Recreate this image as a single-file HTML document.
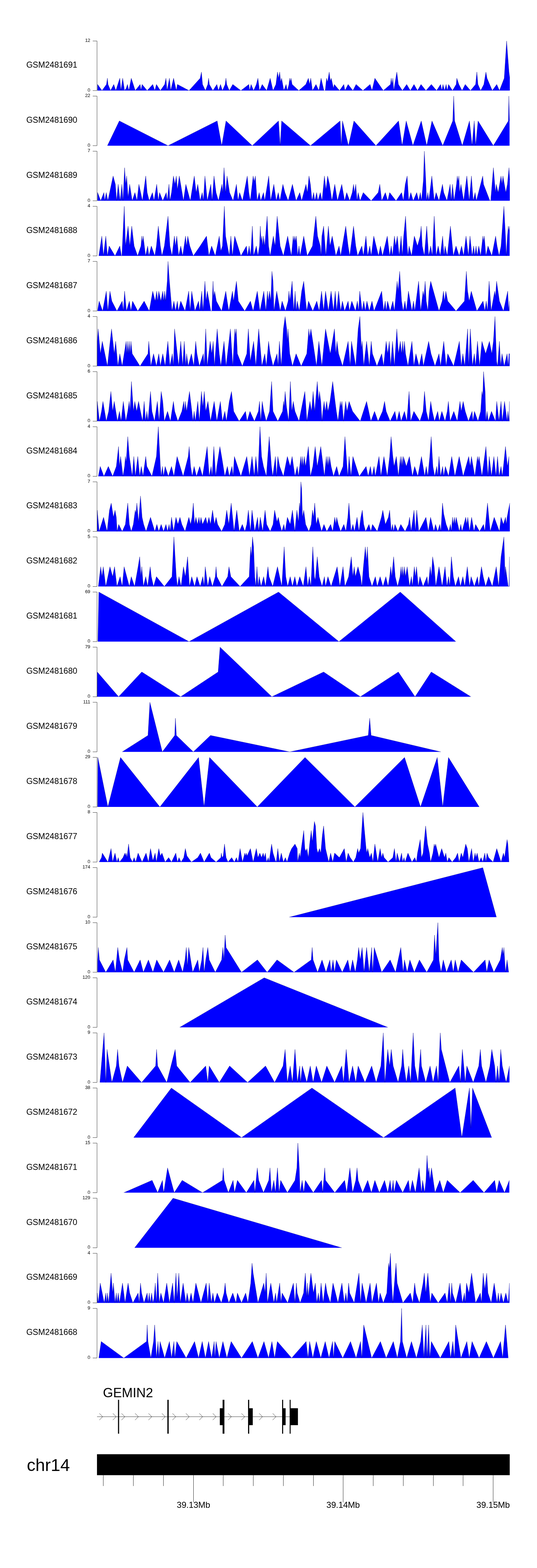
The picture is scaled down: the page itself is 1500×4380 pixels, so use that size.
<!DOCTYPE html><html><head><meta charset="utf-8"><style>html,body{margin:0;padding:0;background:#fff;width:1500px;height:4380px;overflow:hidden}svg{display:block}text{font-family:"Liberation Sans",Arial,sans-serif}</style></head><body>
<svg width="1500" height="4380" viewBox="0 0 1500 4380">
<rect width="1500" height="4380" fill="#fff"/>
<path d="M272.44 253L272.44 253L272.67 235.69L284.89 253L297.33 235.69L300 218.38L301.78 235.69L308.89 253L317.78 235.69L323.56 253L334.67 218.38L337.78 253L342.67 218.38L348 253L352.44 246.67L356 235.69L360 253L366.67 218.38L377.78 253L391.56 235.69L393.78 253L396.89 235.69L411.11 253L426.67 235.69L432.44 253L436.89 235.69L448 253L460 235.69L463.56 218.38L466.67 253L473.33 218.38L476.89 253L484.89 218.38L492.44 253L495.56 235.69L528 253L559.11 218.38L562.67 201.06L565.78 235.69L573.78 253L580.44 235.69L582.67 218.38L584.89 235.69L594.67 253L605.78 235.69L610.22 253L616 235.69L621.33 253L628.89 235.69L631.11 218.38L633.33 235.69L640.44 253L650.22 235.69L672.89 253L695.11 235.69L697.33 253L701.33 235.69L708.44 253L716 235.69L720.44 218.38L724.89 253L732.44 235.69L744.89 253L754.67 218.38L762.67 253L770.67 235.69L775.11 201.06L778.22 218.38L781.33 201.06L784 228.89L786.67 218.38L792.89 253L799.11 235.69L802.67 253L807.11 235.69L808.89 218.38L810.67 228.89L812.89 218.38L816 235.69L834.67 253L854.22 235.69L861.33 218.38L864.89 235.69L868 218.38L872.89 253L882.67 235.69L890.67 253L896.89 218.38L904.89 253L908.44 253L912 218.38L915.11 228.89L919.56 201.06L922.67 226.67L925.33 218.38L931.56 246.67L933.78 235.69L948.44 253L960.44 235.69L963.56 253L972.44 235.69L985.78 253L994.67 235.69L1013.78 253L1033.78 235.69L1039.11 253L1047.11 218.38L1070.67 253L1090.67 235.69L1092.89 218.38L1095.11 235.69L1097.33 218.38L1100 253L1102.67 235.69L1108.44 201.06L1112.89 235.69L1124 253L1136 235.69L1146.22 253L1156.44 235.69L1166.22 253L1176 235.69L1189.78 253L1204.89 235.69L1219.56 253L1230.67 235.69L1234.22 253L1237.33 235.69L1241.78 253L1246.22 235.69L1249.33 253L1252.89 235.69L1264 253L1274.22 235.69L1276 218.38L1281.78 235.69L1290.67 253L1299.56 235.69L1314.22 253L1328.44 235.69L1332 201.06L1335.11 235.69L1342.67 253L1351.56 235.69L1357.33 201.06L1360.44 218.38L1375.11 253L1387.56 235.69L1395.11 253L1408.44 218.38L1415.11 114.5L1421.78 201.06L1424 218.38L1424 253Z" fill="#0000ff" stroke="none"/>
<path d="M272.44 253L272.67 235.69L284.89 253L297.33 235.69L300 218.38L301.78 235.69L308.89 253L317.78 235.69L323.56 253L334.67 218.38L337.78 253L342.67 218.38L348 253L352.44 246.67L356 235.69L360 253L366.67 218.38L377.78 253L391.56 235.69L393.78 253L396.89 235.69L411.11 253L426.67 235.69L432.44 253L436.89 235.69L448 253L460 235.69L463.56 218.38L466.67 253L473.33 218.38L476.89 253L484.89 218.38L492.44 253L495.56 235.69L528 253L559.11 218.38L562.67 201.06L565.78 235.69L573.78 253L580.44 235.69L582.67 218.38L584.89 235.69L594.67 253L605.78 235.69L610.22 253L616 235.69L621.33 253L628.89 235.69L631.11 218.38L633.33 235.69L640.44 253L650.22 235.69L672.89 253L695.11 235.69L697.33 253L701.33 235.69L708.44 253L716 235.69L720.44 218.38L724.89 253L732.44 235.69L744.89 253L754.67 218.38L762.67 253L770.67 235.69L775.11 201.06L778.22 218.38L781.33 201.06L784 228.89L786.67 218.38L792.89 253L799.11 235.69L802.67 253L807.11 235.69L808.89 218.38L810.67 228.89L812.89 218.38L816 235.69L834.67 253L854.22 235.69L861.33 218.38L864.89 235.69L868 218.38L872.89 253L882.67 235.69L890.67 253L896.89 218.38L904.89 253L908.44 253L912 218.38L915.11 228.89L919.56 201.06L922.67 226.67L925.33 218.38L931.56 246.67L933.78 235.69L948.44 253L960.44 235.69L963.56 253L972.44 235.69L985.78 253L994.67 235.69L1013.78 253L1033.78 235.69L1039.11 253L1047.11 218.38L1070.67 253L1090.67 235.69L1092.89 218.38L1095.11 235.69L1097.33 218.38L1100 253L1102.67 235.69L1108.44 201.06L1112.89 235.69L1124 253L1136 235.69L1146.22 253L1156.44 235.69L1166.22 253L1176 235.69L1189.78 253L1204.89 235.69L1219.56 253L1230.67 235.69L1234.22 253L1237.33 235.69L1241.78 253L1246.22 235.69L1249.33 253L1252.89 235.69L1264 253L1274.22 235.69L1276 218.38L1281.78 235.69L1290.67 253L1299.56 235.69L1314.22 253L1328.44 235.69L1332 201.06L1335.11 235.69L1342.67 253L1351.56 235.69L1357.33 201.06L1360.44 218.38L1375.11 253L1387.56 235.69L1395.11 253L1408.44 218.38L1415.11 114.5L1421.78 201.06L1424 218.38" fill="none" stroke="#000080" stroke-width="0.55" stroke-linejoin="round"/>
<path d="M259 114.5H271V253H259" fill="none" stroke="#333" stroke-width="1"/>
<text x="252.1" y="117.4" font-size="13" text-anchor="end" fill="#000">12</text>
<text x="252.1" y="255.9" font-size="13" text-anchor="end" fill="#000">0</text>
<text x="73.4" y="189" font-size="23.1" fill="#000">GSM2481691</text>
<path d="M300 406.93L300 406.93L333.33 337.68L469.33 406.93L606.67 337.68L619.33 406.93L631.33 337.68L704.67 406.93L778 337.68L782.67 406.93L786.67 337.68L867.33 406.93L950 337.68L953.33 406.93L956.67 337.68L973.33 406.93L988.67 337.68L1050 406.93L1113.33 337.68L1123.33 406.93L1134.67 337.68L1153.33 406.93L1176.67 337.68L1192 406.93L1206.67 337.68L1236.67 406.93L1264.67 337.68L1267.33 268.43L1270 337.68L1291.33 406.93L1311.33 337.68L1318.67 406.93L1324.67 337.68L1328.67 406.93L1335.33 337.68L1378 406.93L1420 337.68L1421.33 268.43L1423.33 337.68L1423.33 406.93Z" fill="#0000ff" stroke="none"/>
<path d="M300 406.93L333.33 337.68L469.33 406.93L606.67 337.68L619.33 406.93L631.33 337.68L704.67 406.93L778 337.68L782.67 406.93L786.67 337.68L867.33 406.93L950 337.68L953.33 406.93L956.67 337.68L973.33 406.93L988.67 337.68L1050 406.93L1113.33 337.68L1123.33 406.93L1134.67 337.68L1153.33 406.93L1176.67 337.68L1192 406.93L1206.67 337.68L1236.67 406.93L1264.67 337.68L1267.33 268.43L1270 337.68L1291.33 406.93L1311.33 337.68L1318.67 406.93L1324.67 337.68L1328.67 406.93L1335.33 337.68L1378 406.93L1420 337.68L1421.33 268.43L1423.33 337.68" fill="none" stroke="#000080" stroke-width="0.55" stroke-linejoin="round"/>
<path d="M259 268.43H271V406.93H259" fill="none" stroke="#333" stroke-width="1"/>
<text x="252.1" y="271.33" font-size="13" text-anchor="end" fill="#000">22</text>
<text x="252.1" y="409.83" font-size="13" text-anchor="end" fill="#000">0</text>
<text x="73.4" y="342.93" font-size="23.1" fill="#000">GSM2481690</text>
<path d="M272.44 560.86L272.44 560.86L272.67 537.78L281.33 560.86L290.22 537.78L292.44 560.86L296.89 537.78L301.33 560.86L316 491.61L322.22 514.69L325.78 560.86L330.22 514.69L335.56 560.86L340.44 514.69L343.56 560.86L348 468.53L351.11 514.69L353.78 491.61L357.78 551.78L362.22 514.69L369.33 560.86L376.89 537.78L382.67 560.86L388 514.69L397.78 560.86L407.11 491.61L411.11 537.78L416.89 560.86L425.78 537.78L430.22 560.86L437.78 514.69L442.22 560.86L445.78 537.78L454.67 560.86L464.44 537.78L467.11 560.86L472 514.69L474.67 560.86L479.11 537.78L484.44 491.61L488.89 514.69L492.44 491.61L495.56 529.56L500.89 491.61L512.44 560.86L519.11 514.69L531.56 560.86L542.67 491.61L548 537.78L552.44 514.69L559.11 560.86L564.89 537.78L568 560.86L572.44 491.61L579.11 560.86L588.89 514.69L592.44 560.86L597.78 491.61L603.56 537.78L610.22 560.86L620 514.69L622.22 537.78L625.78 468.53L630.22 537.78L634.22 491.61L641.33 537.78L651.11 560.86L660.44 514.69L664.89 560.86L669.33 537.78L677.33 560.86L690.67 491.61L695.11 537.78L699.11 560.86L707.11 491.61L710.22 507.33L713.33 491.61L718.22 560.86L724 537.78L728.44 560.86L736 537.78L739.56 560.86L750.67 491.61L756 560.86L764.89 514.69L771.56 560.86L777.33 537.78L781.78 560.86L790.22 514.69L796 537.78L804.89 560.86L816.89 514.69L827.11 560.86L837.33 537.78L842.67 560.86L854.67 514.69L858.67 537.78L863.11 491.61L867.11 514.69L871.56 560.86L876 537.78L879.56 560.86L884.44 537.78L888 560.86L894.67 537.78L899.56 560.86L906.22 491.61L910.67 529.56L915.11 491.61L920.44 514.69L927.11 560.86L935.11 514.69L942.67 560.86L954.67 514.69L962.67 560.86L968.44 537.78L976.89 560.86L984 537.78L987.56 514.69L990.22 537.78L993.78 514.69L997.33 560.86L1000.44 537.78L1005.78 560.86L1014.67 537.78L1036.89 560.86L1056.44 537.78L1060.89 514.69L1066.22 560.86L1076.44 537.78L1083.11 560.86L1088.44 537.78L1106.22 560.86L1121.78 537.78L1126.67 560.86L1132 514.69L1137.33 491.61L1141.78 560.86L1147.56 537.78L1154.22 560.86L1164 537.78L1169.33 560.86L1174.22 537.78L1177.33 560.86L1182.67 502.89L1185.33 422.36L1189.33 502.89L1191.56 560.86L1195.11 537.78L1197.78 560.86L1206.22 491.61L1212.89 560.86L1218.22 537.78L1226.22 560.86L1236 514.69L1239.56 537.78L1248.44 560.86L1257.33 514.69L1260.44 560.86L1264 514.69L1268.44 560.86L1275.11 514.69L1277.33 491.61L1279.56 507.33L1281.78 491.61L1284 537.78L1287.56 514.69L1295.11 560.86L1304 491.61L1310.67 560.86L1316.89 491.61L1321.78 560.86L1327.11 537.78L1330.67 560.86L1348.44 491.61L1350.67 514.69L1368.44 560.86L1370.67 560.86L1378.22 468.53L1384 537.78L1386.22 514.69L1391.56 537.78L1399.56 491.61L1402.22 514.69L1404.89 491.61L1412.89 537.78L1417.33 514.69L1421.78 468.53L1424 502.89L1424 560.86Z" fill="#0000ff" stroke="none"/>
<path d="M272.44 560.86L272.67 537.78L281.33 560.86L290.22 537.78L292.44 560.86L296.89 537.78L301.33 560.86L316 491.61L322.22 514.69L325.78 560.86L330.22 514.69L335.56 560.86L340.44 514.69L343.56 560.86L348 468.53L351.11 514.69L353.78 491.61L357.78 551.78L362.22 514.69L369.33 560.86L376.89 537.78L382.67 560.86L388 514.69L397.78 560.86L407.11 491.61L411.11 537.78L416.89 560.86L425.78 537.78L430.22 560.86L437.78 514.69L442.22 560.86L445.78 537.78L454.67 560.86L464.44 537.78L467.11 560.86L472 514.69L474.67 560.86L479.11 537.78L484.44 491.61L488.89 514.69L492.44 491.61L495.56 529.56L500.89 491.61L512.44 560.86L519.11 514.69L531.56 560.86L542.67 491.61L548 537.78L552.44 514.69L559.11 560.86L564.89 537.78L568 560.86L572.44 491.61L579.11 560.86L588.89 514.69L592.44 560.86L597.78 491.61L603.56 537.78L610.22 560.86L620 514.69L622.22 537.78L625.78 468.53L630.22 537.78L634.22 491.61L641.33 537.78L651.11 560.86L660.44 514.69L664.89 560.86L669.33 537.78L677.33 560.86L690.67 491.61L695.11 537.78L699.11 560.86L707.11 491.61L710.22 507.33L713.33 491.61L718.22 560.86L724 537.78L728.44 560.86L736 537.78L739.56 560.86L750.67 491.61L756 560.86L764.89 514.69L771.56 560.86L777.33 537.78L781.78 560.86L790.22 514.69L796 537.78L804.89 560.86L816.89 514.69L827.11 560.86L837.33 537.78L842.67 560.86L854.67 514.69L858.67 537.78L863.11 491.61L867.11 514.69L871.56 560.86L876 537.78L879.56 560.86L884.44 537.78L888 560.86L894.67 537.78L899.56 560.86L906.22 491.61L910.67 529.56L915.11 491.61L920.44 514.69L927.11 560.86L935.11 514.69L942.67 560.86L954.67 514.69L962.67 560.86L968.44 537.78L976.89 560.86L984 537.78L987.56 514.69L990.22 537.78L993.78 514.69L997.33 560.86L1000.44 537.78L1005.78 560.86L1014.67 537.78L1036.89 560.86L1056.44 537.78L1060.89 514.69L1066.22 560.86L1076.44 537.78L1083.11 560.86L1088.44 537.78L1106.22 560.86L1121.78 537.78L1126.67 560.86L1132 514.69L1137.33 491.61L1141.78 560.86L1147.56 537.78L1154.22 560.86L1164 537.78L1169.33 560.86L1174.22 537.78L1177.33 560.86L1182.67 502.89L1185.33 422.36L1189.33 502.89L1191.56 560.86L1195.11 537.78L1197.78 560.86L1206.22 491.61L1212.89 560.86L1218.22 537.78L1226.22 560.86L1236 514.69L1239.56 537.78L1248.44 560.86L1257.33 514.69L1260.44 560.86L1264 514.69L1268.44 560.86L1275.11 514.69L1277.33 491.61L1279.56 507.33L1281.78 491.61L1284 537.78L1287.56 514.69L1295.11 560.86L1304 491.61L1310.67 560.86L1316.89 491.61L1321.78 560.86L1327.11 537.78L1330.67 560.86L1348.44 491.61L1350.67 514.69L1368.44 560.86L1370.67 560.86L1378.22 468.53L1384 537.78L1386.22 514.69L1391.56 537.78L1399.56 491.61L1402.22 514.69L1404.89 491.61L1412.89 537.78L1417.33 514.69L1421.78 468.53L1424 502.89" fill="none" stroke="#000080" stroke-width="0.55" stroke-linejoin="round"/>
<path d="M259 422.36H271V560.86H259" fill="none" stroke="#333" stroke-width="1"/>
<text x="252.1" y="425.26" font-size="13" text-anchor="end" fill="#000">7</text>
<text x="252.1" y="563.76" font-size="13" text-anchor="end" fill="#000">0</text>
<text x="73.4" y="496.86" font-size="23.1" fill="#000">GSM2481689</text>
<path d="M276 714.79L276 714.79L284.44 659.39L288.89 714.79L295.56 659.39L300 714.79L304.89 687.09L321.33 714.79L334.67 687.09L339.11 714.79L340.44 714.79L347.11 576.29L350.67 687.09L357.78 631.69L362.67 687.09L368 631.69L374.67 687.09L384.44 714.79L393.78 687.09L396 659.39L397.78 676.89L400 659.39L406.67 714.79L412.44 687.09L416 714.79L422.67 687.09L432.44 714.79L436.89 687.09L442.22 631.69L448 687.09L452.44 714.79L459.11 687.09L469.33 603.99L474.67 687.09L480.44 714.79L487.11 659.39L490.22 687.09L493.78 659.39L499.11 714.79L504.89 687.09L510.22 714.79L518.22 659.39L521.33 687.09L524.44 659.39L530.22 687.09L540 714.79L559.11 687.09L576.89 659.39L583.56 714.79L591.11 687.09L601.33 714.79L612.44 659.39L616.89 701.33L621.33 687.09L626.67 576.29L630.22 659.39L640.44 714.79L644.89 659.39L649.33 714.79L655.56 659.39L672.89 714.79L688.44 687.09L691.56 714.79L696 687.09L699.56 714.79L701.78 687.09L704.89 631.69L708.44 714.79L716 687.09L720.44 714.79L724.89 687.09L727.11 631.69L729.33 674.67L731.56 659.39L733.78 687.09L736 659.39L739.56 687.09L746.22 603.99L750.22 687.09L754.67 714.79L763.56 659.39L768.44 687.09L774.22 603.99L782.67 687.09L791.56 714.79L803.56 659.39L813.78 714.79L819.11 659.39L821.33 674.67L823.56 659.39L825.78 674.67L828 659.39L831.56 714.79L835.11 687.09L838.22 714.79L848.44 659.39L858.22 714.79L872.89 687.09L882.22 603.99L887.11 659.39L894.67 687.09L896.89 714.79L899.11 659.39L904 631.69L910.22 714.79L917.33 631.69L921.78 687.09L928 659.39L938.22 714.79L947.11 687.09L951.56 714.79L965.78 631.69L972.44 687.09L976.89 714.79L987.56 631.69L993.78 687.09L999.11 714.79L1010.67 687.09L1015.11 714.79L1022.22 659.39L1027.11 714.79L1032.89 687.09L1036.89 714.79L1044 659.39L1057.33 714.79L1062.67 687.09L1068.44 714.79L1081.78 659.39L1088.44 714.79L1092.89 687.09L1096.44 714.79L1101.78 659.39L1105.33 687.09L1109.78 659.39L1115.11 714.79L1120.44 659.39L1124 714.79L1127.56 659.39L1132.89 603.99L1137.33 687.09L1139.56 714.79L1142.67 687.09L1149.78 714.79L1157.33 659.39L1166.22 687.09L1173.78 659.39L1176.44 631.69L1179.56 687.09L1185.33 714.79L1192 631.69L1197.33 714.79L1203.11 687.09L1207.56 714.79L1212.89 603.99L1218.22 714.79L1224 687.09L1229.78 714.79L1236.44 659.39L1240.44 714.79L1243.11 687.09L1249.33 714.79L1258.22 631.69L1266.22 714.79L1273.78 687.09L1282.67 714.79L1289.33 687.09L1295.11 714.79L1301.78 659.39L1308.44 714.79L1312.89 659.39L1318.67 714.79L1323.11 687.09L1326.22 714.79L1329.78 687.09L1332.89 714.79L1337.33 687.09L1342.67 714.79L1348.89 659.39L1350.67 674.67L1352.89 659.39L1357.33 714.79L1363.11 687.09L1373.78 714.79L1384.44 659.39L1388.44 687.09L1394.22 714.79L1399.56 687.09L1407.56 576.29L1412 659.39L1414.22 714.79L1417.33 659.39L1420 631.69L1421.78 645.78L1423.56 631.69L1423.56 714.79Z" fill="#0000ff" stroke="none"/>
<path d="M276 714.79L284.44 659.39L288.89 714.79L295.56 659.39L300 714.79L304.89 687.09L321.33 714.79L334.67 687.09L339.11 714.79L340.44 714.79L347.11 576.29L350.67 687.09L357.78 631.69L362.67 687.09L368 631.69L374.67 687.09L384.44 714.79L393.78 687.09L396 659.39L397.78 676.89L400 659.39L406.67 714.79L412.44 687.09L416 714.79L422.67 687.09L432.44 714.79L436.89 687.09L442.22 631.69L448 687.09L452.44 714.79L459.11 687.09L469.33 603.99L474.67 687.09L480.44 714.79L487.11 659.39L490.22 687.09L493.78 659.39L499.11 714.79L504.89 687.09L510.22 714.79L518.22 659.39L521.33 687.09L524.44 659.39L530.22 687.09L540 714.79L559.11 687.09L576.89 659.39L583.56 714.79L591.11 687.09L601.33 714.79L612.44 659.39L616.89 701.33L621.33 687.09L626.67 576.29L630.22 659.39L640.44 714.79L644.89 659.39L649.33 714.79L655.56 659.39L672.89 714.79L688.44 687.09L691.56 714.79L696 687.09L699.56 714.79L701.78 687.09L704.89 631.69L708.44 714.79L716 687.09L720.44 714.79L724.89 687.09L727.11 631.69L729.33 674.67L731.56 659.39L733.78 687.09L736 659.39L739.56 687.09L746.22 603.99L750.22 687.09L754.67 714.79L763.56 659.39L768.44 687.09L774.22 603.99L782.67 687.09L791.56 714.79L803.56 659.39L813.78 714.79L819.11 659.39L821.33 674.67L823.56 659.39L825.78 674.67L828 659.39L831.56 714.79L835.11 687.09L838.22 714.79L848.44 659.39L858.22 714.79L872.89 687.09L882.22 603.99L887.11 659.39L894.67 687.09L896.89 714.79L899.11 659.39L904 631.69L910.22 714.79L917.33 631.69L921.78 687.09L928 659.39L938.22 714.79L947.11 687.09L951.56 714.79L965.78 631.69L972.44 687.09L976.89 714.79L987.56 631.69L993.78 687.09L999.11 714.79L1010.67 687.09L1015.11 714.79L1022.22 659.39L1027.11 714.79L1032.89 687.09L1036.89 714.79L1044 659.39L1057.33 714.79L1062.67 687.09L1068.44 714.79L1081.78 659.39L1088.44 714.79L1092.89 687.09L1096.44 714.79L1101.78 659.39L1105.33 687.09L1109.78 659.39L1115.11 714.79L1120.44 659.39L1124 714.79L1127.56 659.39L1132.89 603.99L1137.33 687.09L1139.56 714.79L1142.67 687.09L1149.78 714.79L1157.33 659.39L1166.22 687.09L1173.78 659.39L1176.44 631.69L1179.56 687.09L1185.33 714.79L1192 631.69L1197.33 714.79L1203.11 687.09L1207.56 714.79L1212.89 603.99L1218.22 714.79L1224 687.09L1229.78 714.79L1236.44 659.39L1240.44 714.79L1243.11 687.09L1249.33 714.79L1258.22 631.69L1266.22 714.79L1273.78 687.09L1282.67 714.79L1289.33 687.09L1295.11 714.79L1301.78 659.39L1308.44 714.79L1312.89 659.39L1318.67 714.79L1323.11 687.09L1326.22 714.79L1329.78 687.09L1332.89 714.79L1337.33 687.09L1342.67 714.79L1348.89 659.39L1350.67 674.67L1352.89 659.39L1357.33 714.79L1363.11 687.09L1373.78 714.79L1384.44 659.39L1388.44 687.09L1394.22 714.79L1399.56 687.09L1407.56 576.29L1412 659.39L1414.22 714.79L1417.33 659.39L1420 631.69L1421.78 645.78L1423.56 631.69" fill="none" stroke="#000080" stroke-width="0.55" stroke-linejoin="round"/>
<path d="M259 576.29H271V714.79H259" fill="none" stroke="#333" stroke-width="1"/>
<text x="252.1" y="579.19" font-size="13" text-anchor="end" fill="#000">4</text>
<text x="252.1" y="717.69" font-size="13" text-anchor="end" fill="#000">0</text>
<text x="73.4" y="650.79" font-size="23.1" fill="#000">GSM2481688</text>
<path d="M272.44 868.72L272.44 868.72L276.89 841.02L286.67 868.72L296.89 813.32L301.33 868.72L307.11 813.32L312.44 841.02L326.67 868.72L341.33 841.02L344.44 868.72L348 813.32L353.33 868.72L361.33 841.02L365.78 868.72L370.22 841.02L384.89 868.72L402.67 841.02L416.89 868.72L426.67 813.32L433.33 841.02L437.78 813.32L440.44 841.02L443.56 813.32L449.33 841.02L454.67 813.32L457.33 841.02L460 813.32L462.67 841.02L467.11 785.62L469.33 730.22L473.33 785.62L480.44 868.72L485.78 841.02L490.22 868.72L495.56 841.02L498.22 868.72L504.89 841.02L516.89 868.72L527.11 813.32L531.11 868.72L535.56 813.32L544.44 868.72L554.67 841.02L557.78 868.72L563.56 813.32L567.11 868.72L572.44 785.62L575.56 841.02L579.11 813.32L588.89 868.72L591.56 868.72L595.11 785.62L596.89 828.67L599.56 813.32L604.44 841.02L619.11 868.72L630.67 813.32L634.67 841.02L639.11 868.72L649.33 813.32L652.44 841.02L660.44 785.62L665.78 841.02L683.56 868.72L699.56 841.02L707.11 868.72L718.67 813.32L726.22 868.72L736.89 813.32L742.67 868.72L747.11 813.32L749.33 841.02L752.89 813.32L756.44 841.02L759.56 757.92L762.67 785.62L765.33 868.72L772.89 813.32L782.67 868.72L788 841.02L797.33 868.72L804.89 841.02L807.11 813.32L809.78 841.02L816 785.62L820.44 868.72L824.44 813.32L827.11 868.72L830.22 841.02L836 868.72L842.67 813.32L848.44 785.62L853.78 841.02L856.89 868.72L861.78 841.02L873.78 868.72L884.89 841.02L891.56 868.72L898.22 813.32L904 868.72L909.33 813.32L917.33 868.72L924.89 813.32L931.56 868.72L936.44 813.32L940.44 868.72L945.78 813.32L951.56 868.72L956.44 841.02L962.67 868.72L972.44 841.02L976 868.72L982.67 841.02L992.89 868.72L998.22 841.02L1001.78 868.72L1004.89 813.32L1011.56 868.72L1016 841.02L1020.44 868.72L1024.89 841.02L1031.56 868.72L1039.11 841.02L1044.89 868.72L1066.22 813.32L1071.56 868.72L1076 841.02L1078.67 868.72L1082.67 841.02L1089.78 868.72L1097.33 841.02L1101.78 868.72L1109.33 785.62L1112 813.32L1116.44 757.92L1121.78 841.02L1126.22 868.72L1131.11 841.02L1135.11 868.72L1140.89 813.32L1150.67 868.72L1155.11 841.02L1158.67 868.72L1169.33 785.62L1175.11 868.72L1181.78 813.32L1184.44 828.67L1187.56 785.62L1190.67 841.02L1195.11 868.72L1198.67 813.32L1203.11 785.62L1226.22 868.72L1235.11 841.02L1238.67 813.32L1241.78 841.02L1245.33 813.32L1250.67 841.02L1273.78 868.72L1297.33 841.02L1302.67 757.92L1306.22 813.32L1310.67 841.02L1316.44 813.32L1332 868.72L1349.33 841.02L1354.22 868.72L1358.22 841.02L1361.78 868.72L1366.22 785.62L1372 868.72L1381.78 813.32L1384 828.67L1387.11 785.62L1395.11 841.02L1406.22 868.72L1418.22 813.32L1420.89 868.72L1423.11 841.02L1423.11 868.72Z" fill="#0000ff" stroke="none"/>
<path d="M272.44 868.72L276.89 841.02L286.67 868.72L296.89 813.32L301.33 868.72L307.11 813.32L312.44 841.02L326.67 868.72L341.33 841.02L344.44 868.72L348 813.32L353.33 868.72L361.33 841.02L365.78 868.72L370.22 841.02L384.89 868.72L402.67 841.02L416.89 868.72L426.67 813.32L433.33 841.02L437.78 813.32L440.44 841.02L443.56 813.32L449.33 841.02L454.67 813.32L457.33 841.02L460 813.32L462.67 841.02L467.11 785.62L469.33 730.22L473.33 785.62L480.44 868.72L485.78 841.02L490.22 868.72L495.56 841.02L498.22 868.72L504.89 841.02L516.89 868.72L527.11 813.32L531.11 868.72L535.56 813.32L544.44 868.72L554.67 841.02L557.78 868.72L563.56 813.32L567.11 868.72L572.44 785.62L575.56 841.02L579.11 813.32L588.89 868.72L591.56 868.72L595.11 785.62L596.89 828.67L599.56 813.32L604.44 841.02L619.11 868.72L630.67 813.32L634.67 841.02L639.11 868.72L649.33 813.32L652.44 841.02L660.44 785.62L665.78 841.02L683.56 868.72L699.56 841.02L707.11 868.72L718.67 813.32L726.22 868.72L736.89 813.32L742.67 868.72L747.11 813.32L749.33 841.02L752.89 813.32L756.44 841.02L759.56 757.92L762.67 785.62L765.33 868.72L772.89 813.32L782.67 868.72L788 841.02L797.33 868.72L804.89 841.02L807.11 813.32L809.78 841.02L816 785.62L820.44 868.72L824.44 813.32L827.11 868.72L830.22 841.02L836 868.72L842.67 813.32L848.44 785.62L853.78 841.02L856.89 868.72L861.78 841.02L873.78 868.72L884.89 841.02L891.56 868.72L898.22 813.32L904 868.72L909.33 813.32L917.33 868.72L924.89 813.32L931.56 868.72L936.44 813.32L940.44 868.72L945.78 813.32L951.56 868.72L956.44 841.02L962.67 868.72L972.44 841.02L976 868.72L982.67 841.02L992.89 868.72L998.22 841.02L1001.78 868.72L1004.89 813.32L1011.56 868.72L1016 841.02L1020.44 868.72L1024.89 841.02L1031.56 868.72L1039.11 841.02L1044.89 868.72L1066.22 813.32L1071.56 868.72L1076 841.02L1078.67 868.72L1082.67 841.02L1089.78 868.72L1097.33 841.02L1101.78 868.72L1109.33 785.62L1112 813.32L1116.44 757.92L1121.78 841.02L1126.22 868.72L1131.11 841.02L1135.11 868.72L1140.89 813.32L1150.67 868.72L1155.11 841.02L1158.67 868.72L1169.33 785.62L1175.11 868.72L1181.78 813.32L1184.44 828.67L1187.56 785.62L1190.67 841.02L1195.11 868.72L1198.67 813.32L1203.11 785.62L1226.22 868.72L1235.11 841.02L1238.67 813.32L1241.78 841.02L1245.33 813.32L1250.67 841.02L1273.78 868.72L1297.33 841.02L1302.67 757.92L1306.22 813.32L1310.67 841.02L1316.44 813.32L1332 868.72L1349.33 841.02L1354.22 868.72L1358.22 841.02L1361.78 868.72L1366.22 785.62L1372 868.72L1381.78 813.32L1384 828.67L1387.11 785.62L1395.11 841.02L1406.22 868.72L1418.22 813.32L1420.89 868.72L1423.11 841.02" fill="none" stroke="#000080" stroke-width="0.55" stroke-linejoin="round"/>
<path d="M259 730.22H271V868.72H259" fill="none" stroke="#333" stroke-width="1"/>
<text x="252.1" y="733.12" font-size="13" text-anchor="end" fill="#000">7</text>
<text x="252.1" y="871.62" font-size="13" text-anchor="end" fill="#000">0</text>
<text x="73.4" y="804.72" font-size="23.1" fill="#000">GSM2481687</text>
<path d="M271.56 1022.65L271.56 1022.65L271.78 953.4L274.22 918.78L280.44 988.03L285.78 953.4L300 1022.65L311.56 918.78L319.11 988.03L323.11 953.4L329.33 1022.65L334.67 988.03L341.33 1022.65L352.44 953.4L354.67 988.03L356.89 953.4L359.11 988.03L361.33 953.4L363.56 988.03L365.78 953.4L369.33 988.03L391.11 1022.65L413.33 988.03L415.56 953.4L421.33 1022.65L428.89 988.03L436.89 1022.65L443.56 988.03L448 1022.65L454.67 988.03L461.33 1022.65L468.89 953.4L474.67 1022.65L481.33 988.03L484.44 1022.65L487.56 918.78L499.11 1022.65L504.89 953.4L510.22 1022.65L514.67 953.4L519.11 1022.65L521.33 988.03L525.78 1022.65L534.67 988.03L541.33 1022.65L546.67 953.4L550.22 988.03L556.89 1022.65L568 988.03L570.22 1022.65L574.67 918.78L579.11 1022.65L587.11 953.4L591.56 988.03L595.56 953.4L599.11 1022.65L606.67 918.78L612.44 988.03L616.89 1022.65L625.78 953.4L631.56 1022.65L643.56 918.78L650.22 1022.65L656 918.78L657.78 938.22L660 918.78L663.11 988.03L676.89 1022.65L689.33 988.03L693.78 918.78L699.11 1009.33L708.44 953.4L714.67 1022.65L722.67 918.78L731.56 1022.65L739.56 988.03L744 1022.65L750.22 953.4L754.67 988.03L762.67 1022.65L773.78 988.03L776.89 1022.65L780.44 953.4L785.78 1022.65L791.56 918.78L796.44 884.15L800.89 918.78L802.67 953.4L804.44 918.78L809.33 988.03L816.89 1022.65L827.11 988.03L841.33 1022.65L856.89 988.03L862.67 918.78L864.89 942.67L868.44 918.78L873.78 953.4L884 1022.65L890.67 953.4L899.11 1022.65L909.33 918.78L922.67 988.03L934.22 918.78L938.22 988.03L941.33 953.4L945.78 988.03L956.89 1022.65L972.44 953.4L978.22 1022.65L981.78 953.4L993.78 1022.65L1000.44 918.78L1005.33 884.15L1009.33 973.78L1011.56 953.4L1016 1022.65L1024 953.4L1031.56 1022.65L1036.89 953.4L1040.44 988.03L1052.89 1022.65L1066.22 988.03L1071.56 1022.65L1078.67 953.4L1083.11 988.03L1087.56 953.4L1091.11 1022.65L1096.44 953.4L1101.78 1022.65L1108.44 918.78L1112.89 988.03L1118.22 953.4L1121.78 988.03L1124.89 953.4L1127.11 988.03L1129.78 953.4L1132.89 988.03L1139.56 1022.65L1150.67 953.4L1156 1022.65L1161.78 988.03L1170.67 1022.65L1178.22 988.03L1182.67 1022.65L1197.33 953.4L1204 988.03L1215.11 1022.65L1226.22 988.03L1230.67 1022.65L1239.56 953.4L1246.22 1022.65L1250.67 988.03L1267.11 1022.65L1283.11 953.4L1288.44 1022.65L1292.89 988.03L1298.22 1022.65L1300.89 988.03L1306.22 918.78L1309.33 1022.65L1313.78 918.78L1319.56 1022.65L1324.89 988.03L1328.44 1022.65L1333.78 953.4L1339.56 1022.65L1346.22 953.4L1356.44 988.03L1367.11 953.4L1373.78 988.03L1378.22 953.4L1382.67 884.15L1387.11 1009.33L1389.78 1022.65L1395.11 953.4L1398.67 1022.65L1402.22 988.03L1408.44 1022.65L1416.44 988.03L1419.56 1022.65L1421.78 988.03L1423.56 988.03L1423.56 1022.65Z" fill="#0000ff" stroke="none"/>
<path d="M271.56 1022.65L271.78 953.4L274.22 918.78L280.44 988.03L285.78 953.4L300 1022.65L311.56 918.78L319.11 988.03L323.11 953.4L329.33 1022.65L334.67 988.03L341.33 1022.65L352.44 953.4L354.67 988.03L356.89 953.4L359.11 988.03L361.33 953.4L363.56 988.03L365.78 953.4L369.33 988.03L391.11 1022.65L413.33 988.03L415.56 953.4L421.33 1022.65L428.89 988.03L436.89 1022.65L443.56 988.03L448 1022.65L454.67 988.03L461.33 1022.65L468.89 953.4L474.67 1022.65L481.33 988.03L484.44 1022.65L487.56 918.78L499.11 1022.65L504.89 953.4L510.22 1022.65L514.67 953.4L519.11 1022.65L521.33 988.03L525.78 1022.65L534.67 988.03L541.33 1022.65L546.67 953.4L550.22 988.03L556.89 1022.65L568 988.03L570.22 1022.65L574.67 918.78L579.11 1022.65L587.11 953.4L591.56 988.03L595.56 953.4L599.11 1022.65L606.67 918.78L612.44 988.03L616.89 1022.65L625.78 953.4L631.56 1022.65L643.56 918.78L650.22 1022.65L656 918.78L657.78 938.22L660 918.78L663.11 988.03L676.89 1022.65L689.33 988.03L693.78 918.78L699.11 1009.33L708.44 953.4L714.67 1022.65L722.67 918.78L731.56 1022.65L739.56 988.03L744 1022.65L750.22 953.4L754.67 988.03L762.67 1022.65L773.78 988.03L776.89 1022.65L780.44 953.4L785.78 1022.65L791.56 918.78L796.44 884.15L800.89 918.78L802.67 953.4L804.44 918.78L809.33 988.03L816.89 1022.65L827.11 988.03L841.33 1022.65L856.89 988.03L862.67 918.78L864.89 942.67L868.44 918.78L873.78 953.4L884 1022.65L890.67 953.4L899.11 1022.65L909.33 918.78L922.67 988.03L934.22 918.78L938.22 988.03L941.33 953.4L945.78 988.03L956.89 1022.65L972.44 953.4L978.22 1022.65L981.78 953.4L993.78 1022.65L1000.44 918.78L1005.33 884.15L1009.33 973.78L1011.56 953.4L1016 1022.65L1024 953.4L1031.56 1022.65L1036.89 953.4L1040.44 988.03L1052.89 1022.65L1066.22 988.03L1071.56 1022.65L1078.67 953.4L1083.11 988.03L1087.56 953.4L1091.11 1022.65L1096.44 953.4L1101.78 1022.65L1108.44 918.78L1112.89 988.03L1118.22 953.4L1121.78 988.03L1124.89 953.4L1127.11 988.03L1129.78 953.4L1132.89 988.03L1139.56 1022.65L1150.67 953.4L1156 1022.65L1161.78 988.03L1170.67 1022.65L1178.22 988.03L1182.67 1022.65L1197.33 953.4L1204 988.03L1215.11 1022.65L1226.22 988.03L1230.67 1022.65L1239.56 953.4L1246.22 1022.65L1250.67 988.03L1267.11 1022.65L1283.11 953.4L1288.44 1022.65L1292.89 988.03L1298.22 1022.65L1300.89 988.03L1306.22 918.78L1309.33 1022.65L1313.78 918.78L1319.56 1022.65L1324.89 988.03L1328.44 1022.65L1333.78 953.4L1339.56 1022.65L1346.22 953.4L1356.44 988.03L1367.11 953.4L1373.78 988.03L1378.22 953.4L1382.67 884.15L1387.11 1009.33L1389.78 1022.65L1395.11 953.4L1398.67 1022.65L1402.22 988.03L1408.44 1022.65L1416.44 988.03L1419.56 1022.65L1421.78 988.03L1423.56 988.03" fill="none" stroke="#000080" stroke-width="0.55" stroke-linejoin="round"/>
<path d="M259 884.15H271V1022.65H259" fill="none" stroke="#333" stroke-width="1"/>
<text x="252.1" y="887.05" font-size="13" text-anchor="end" fill="#000">4</text>
<text x="252.1" y="1025.55" font-size="13" text-anchor="end" fill="#000">0</text>
<text x="73.4" y="958.65" font-size="23.1" fill="#000">GSM2481686</text>
<path d="M271.56 1176.58L271.56 1176.58L271.78 1121.18L277.78 1176.58L283.56 1148.88L287.56 1121.18L296.89 1176.58L303.56 1148.88L309.78 1093.48L314.67 1148.88L319.11 1121.18L328 1176.58L333.78 1148.88L338.22 1176.58L344.44 1121.18L351.56 1176.58L356.89 1148.88L360.89 1121.18L363.11 1148.88L367.11 1065.78L372.89 1148.88L376.44 1121.18L381.78 1148.88L387.11 1121.18L392.44 1148.88L398.22 1176.58L402.67 1121.18L406.67 1176.58L410.22 1148.88L413.33 1176.58L420.44 1093.48L424.44 1148.88L431.56 1176.58L439.56 1121.18L444.44 1176.58L450.22 1093.48L454.67 1121.18L459.11 1176.58L468 1148.88L476 1176.58L484.44 1121.18L488 1148.88L496.89 1176.58L508 1148.88L513.33 1121.18L516 1148.88L517.78 1121.18L521.33 1148.88L529.33 1093.48L536 1148.88L539.11 1176.58L542.22 1148.88L545.78 1176.58L552.44 1121.18L556.89 1176.58L562.67 1093.48L566.67 1136.67L570.67 1093.48L574.67 1148.88L580.89 1121.18L588 1176.58L598.22 1121.18L605.78 1176.58L615.56 1121.18L621.33 1176.58L628 1148.88L632.44 1176.58L640.44 1121.18L646.67 1093.48L652.89 1148.88L668 1176.58L685.78 1148.88L690.22 1176.58L698.22 1148.88L710.67 1176.58L721.78 1148.88L724.89 1121.18L728.44 1176.58L732.44 1121.18L736.89 1148.88L743.56 1176.58L752.89 1148.88L758.67 1065.78L762.67 1148.88L776 1176.58L789.33 1148.88L792 1121.18L793.78 1136.67L796.44 1093.48L800.44 1136.67L806.22 1176.58L808 1136.67L811.11 1065.78L815.11 1148.88L819.11 1121.18L824 1148.88L835.11 1176.58L851.56 1093.48L857.33 1176.58L861.33 1148.88L865.78 1121.18L870.22 1148.88L874.67 1093.48L879.11 1148.88L886.22 1065.78L890.22 1121.18L892.44 1093.48L896 1121.18L899.56 1176.58L901.78 1148.88L905.33 1121.18L908.44 1148.88L912.44 1121.18L916 1148.88L921.78 1121.18L929.33 1065.78L936 1121.18L939.56 1148.88L944 1176.58L950.67 1121.18L952.44 1136.67L955.11 1121.18L959.56 1176.58L965.33 1121.18L969.33 1148.88L975.11 1121.18L984.89 1148.88L1006.22 1176.58L1024 1121.18L1036 1176.58L1046.22 1148.88L1056 1176.58L1068.44 1148.88L1074.22 1121.18L1078.67 1148.88L1089.78 1176.58L1103.11 1148.88L1108.44 1176.58L1115.11 1148.88L1120.44 1176.58L1129.78 1148.88L1136.44 1176.58L1142.67 1093.48L1147.11 1176.58L1156 1148.88L1172.89 1176.58L1181.78 1148.88L1185.78 1093.48L1190.67 1148.88L1197.33 1176.58L1203.11 1121.18L1207.56 1148.88L1213.78 1176.58L1222.67 1148.88L1227.11 1176.58L1234.22 1148.88L1243.11 1176.58L1249.33 1148.88L1252.44 1121.18L1257.33 1176.58L1267.56 1148.88L1277.33 1176.58L1284.89 1121.18L1288.44 1148.88L1293.78 1121.18L1299.56 1148.88L1308.44 1176.58L1318.67 1148.88L1320.89 1176.58L1325.33 1148.88L1335.11 1176.58L1342.67 1148.88L1346.22 1093.48L1348.44 1107.78L1350.67 1038.08L1355.11 1093.48L1357.33 1176.58L1360.44 1148.88L1364 1176.58L1372.89 1148.88L1384 1176.58L1387.56 1121.18L1393.78 1176.58L1399.56 1121.18L1403.11 1176.58L1409.33 1121.18L1416.44 1176.58L1418.67 1148.88L1421.78 1176.58L1423.11 1121.18L1423.11 1176.58Z" fill="#0000ff" stroke="none"/>
<path d="M271.56 1176.58L271.78 1121.18L277.78 1176.58L283.56 1148.88L287.56 1121.18L296.89 1176.58L303.56 1148.88L309.78 1093.48L314.67 1148.88L319.11 1121.18L328 1176.58L333.78 1148.88L338.22 1176.58L344.44 1121.18L351.56 1176.58L356.89 1148.88L360.89 1121.18L363.11 1148.88L367.11 1065.78L372.89 1148.88L376.44 1121.18L381.78 1148.88L387.11 1121.18L392.44 1148.88L398.22 1176.58L402.67 1121.18L406.67 1176.58L410.22 1148.88L413.33 1176.58L420.44 1093.48L424.44 1148.88L431.56 1176.58L439.56 1121.18L444.44 1176.58L450.22 1093.48L454.67 1121.18L459.11 1176.58L468 1148.88L476 1176.58L484.44 1121.18L488 1148.88L496.89 1176.58L508 1148.88L513.33 1121.18L516 1148.88L517.78 1121.18L521.33 1148.88L529.33 1093.48L536 1148.88L539.11 1176.58L542.22 1148.88L545.78 1176.58L552.44 1121.18L556.89 1176.58L562.67 1093.48L566.67 1136.67L570.67 1093.48L574.67 1148.88L580.89 1121.18L588 1176.58L598.22 1121.18L605.78 1176.58L615.56 1121.18L621.33 1176.58L628 1148.88L632.44 1176.58L640.44 1121.18L646.67 1093.48L652.89 1148.88L668 1176.58L685.78 1148.88L690.22 1176.58L698.22 1148.88L710.67 1176.58L721.78 1148.88L724.89 1121.18L728.44 1176.58L732.44 1121.18L736.89 1148.88L743.56 1176.58L752.89 1148.88L758.67 1065.78L762.67 1148.88L776 1176.58L789.33 1148.88L792 1121.18L793.78 1136.67L796.44 1093.48L800.44 1136.67L806.22 1176.58L808 1136.67L811.11 1065.78L815.11 1148.88L819.11 1121.18L824 1148.88L835.11 1176.58L851.56 1093.48L857.33 1176.58L861.33 1148.88L865.78 1121.18L870.22 1148.88L874.67 1093.48L879.11 1148.88L886.22 1065.78L890.22 1121.18L892.44 1093.48L896 1121.18L899.56 1176.58L901.78 1148.88L905.33 1121.18L908.44 1148.88L912.44 1121.18L916 1148.88L921.78 1121.18L929.33 1065.78L936 1121.18L939.56 1148.88L944 1176.58L950.67 1121.18L952.44 1136.67L955.11 1121.18L959.56 1176.58L965.33 1121.18L969.33 1148.88L975.11 1121.18L984.89 1148.88L1006.22 1176.58L1024 1121.18L1036 1176.58L1046.22 1148.88L1056 1176.58L1068.44 1148.88L1074.22 1121.18L1078.67 1148.88L1089.78 1176.58L1103.11 1148.88L1108.44 1176.58L1115.11 1148.88L1120.44 1176.58L1129.78 1148.88L1136.44 1176.58L1142.67 1093.48L1147.11 1176.58L1156 1148.88L1172.89 1176.58L1181.78 1148.88L1185.78 1093.48L1190.67 1148.88L1197.33 1176.58L1203.11 1121.18L1207.56 1148.88L1213.78 1176.58L1222.67 1148.88L1227.11 1176.58L1234.22 1148.88L1243.11 1176.58L1249.33 1148.88L1252.44 1121.18L1257.33 1176.58L1267.56 1148.88L1277.33 1176.58L1284.89 1121.18L1288.44 1148.88L1293.78 1121.18L1299.56 1148.88L1308.44 1176.58L1318.67 1148.88L1320.89 1176.58L1325.33 1148.88L1335.11 1176.58L1342.67 1148.88L1346.22 1093.48L1348.44 1107.78L1350.67 1038.08L1355.11 1093.48L1357.33 1176.58L1360.44 1148.88L1364 1176.58L1372.89 1148.88L1384 1176.58L1387.56 1121.18L1393.78 1176.58L1399.56 1121.18L1403.11 1176.58L1409.33 1121.18L1416.44 1176.58L1418.67 1148.88L1421.78 1176.58L1423.11 1121.18" fill="none" stroke="#000080" stroke-width="0.55" stroke-linejoin="round"/>
<path d="M259 1038.08H271V1176.58H259" fill="none" stroke="#333" stroke-width="1"/>
<text x="252.1" y="1040.98" font-size="13" text-anchor="end" fill="#000">6</text>
<text x="252.1" y="1179.48" font-size="13" text-anchor="end" fill="#000">0</text>
<text x="73.4" y="1112.58" font-size="23.1" fill="#000">GSM2481685</text>
<path d="M274.67 1330.51L274.67 1330.51L280 1302.81L290.22 1330.51L302.67 1302.81L314.67 1330.51L324.89 1302.81L331.11 1247.41L333.78 1302.81L336.89 1275.11L343.56 1330.51L348 1302.81L350.22 1275.11L352.44 1290.67L356.89 1219.71L361.33 1275.11L369.33 1330.51L373.78 1275.11L378.22 1330.51L384.89 1275.11L390.22 1330.51L394.67 1302.81L399.56 1330.51L407.11 1275.11L410.22 1302.81L424.44 1330.51L436.89 1275.11L442.22 1192.01L448 1302.81L450.22 1330.51L453.78 1302.81L456.89 1330.51L461.33 1302.81L470.22 1330.51L479.11 1302.81L485.78 1330.51L494.67 1275.11L511.56 1330.51L525.78 1275.11L528.44 1247.41L532.44 1302.81L536.89 1330.51L542.22 1302.81L548.89 1330.51L557.78 1302.81L565.78 1330.51L578.67 1247.41L584.44 1330.51L589.78 1302.81L592.44 1330.51L597.33 1247.41L602.67 1330.51L605.78 1302.81L614.22 1247.41L619.11 1275.11L628 1330.51L635.11 1302.81L640.44 1330.51L648 1302.81L651.11 1330.51L654.67 1275.11L672.89 1330.51L689.33 1275.11L696.89 1330.51L704 1275.11L710.22 1330.51L714.67 1275.11L720.44 1330.51L722.67 1275.11L726.22 1192.01L730.67 1275.11L736 1302.81L744 1330.51L752 1219.71L758.22 1302.81L761.78 1330.51L769.33 1275.11L772.44 1330.51L776 1275.11L781.33 1302.81L791.56 1330.51L802.67 1275.11L810.67 1302.81L816 1275.11L824 1330.51L830.22 1302.81L833.78 1330.51L840.44 1275.11L842.67 1302.81L844.44 1275.11L847.11 1302.81L849.78 1275.11L853.78 1302.81L861.33 1247.41L867.11 1330.51L873.78 1302.81L880.44 1247.41L886.22 1302.81L896 1247.41L906.22 1330.51L911.56 1275.11L913.78 1302.81L916 1275.11L918.22 1302.81L920.44 1275.11L924.89 1302.81L931.56 1330.51L940.44 1302.81L947.11 1330.51L958.22 1302.81L963.56 1219.71L969.33 1302.81L971.56 1330.51L975.11 1275.11L980.44 1330.51L985.78 1275.11L1003.56 1330.51L1022.67 1302.81L1028.44 1330.51L1034.67 1302.81L1039.11 1330.51L1044.89 1302.81L1048.44 1330.51L1058.67 1275.11L1064 1330.51L1072.44 1275.11L1081.78 1330.51L1088.44 1275.11L1092.44 1219.71L1097.33 1275.11L1100.89 1302.81L1107.11 1275.11L1112.89 1330.51L1118.67 1275.11L1120.44 1302.81L1122.67 1275.11L1124.89 1302.81L1126.67 1275.11L1135.11 1302.81L1143.56 1275.11L1152 1330.51L1158.22 1302.81L1167.11 1330.51L1177.33 1275.11L1186.22 1330.51L1190.67 1302.81L1195.11 1330.51L1200.44 1275.11L1204.44 1219.71L1209.33 1302.81L1214.22 1330.51L1220 1302.81L1222.67 1330.51L1226.22 1275.11L1230.67 1330.51L1236.44 1302.81L1239.56 1330.51L1244 1302.81L1252.89 1330.51L1261.78 1275.11L1270.67 1330.51L1282.67 1275.11L1293.78 1330.51L1309.33 1275.11L1313.33 1302.81L1316.89 1275.11L1326.22 1330.51L1333.78 1275.11L1336 1290.67L1338.22 1275.11L1346.22 1330.51L1357.33 1247.41L1363.11 1330.51L1366.67 1275.11L1372.89 1330.51L1379.56 1275.11L1385.33 1330.51L1389.78 1275.11L1394.22 1330.51L1399.56 1302.81L1403.11 1330.51L1406.22 1302.81L1412 1247.41L1417.33 1302.81L1421.78 1275.11L1421.78 1330.51Z" fill="#0000ff" stroke="none"/>
<path d="M274.67 1330.51L280 1302.81L290.22 1330.51L302.67 1302.81L314.67 1330.51L324.89 1302.81L331.11 1247.41L333.78 1302.81L336.89 1275.11L343.56 1330.51L348 1302.81L350.22 1275.11L352.44 1290.67L356.89 1219.71L361.33 1275.11L369.33 1330.51L373.78 1275.11L378.22 1330.51L384.89 1275.11L390.22 1330.51L394.67 1302.81L399.56 1330.51L407.11 1275.11L410.22 1302.81L424.44 1330.51L436.89 1275.11L442.22 1192.01L448 1302.81L450.22 1330.51L453.78 1302.81L456.89 1330.51L461.33 1302.81L470.22 1330.51L479.11 1302.81L485.78 1330.51L494.67 1275.11L511.56 1330.51L525.78 1275.11L528.44 1247.41L532.44 1302.81L536.89 1330.51L542.22 1302.81L548.89 1330.51L557.78 1302.81L565.78 1330.51L578.67 1247.41L584.44 1330.51L589.78 1302.81L592.44 1330.51L597.33 1247.41L602.67 1330.51L605.78 1302.81L614.22 1247.41L619.11 1275.11L628 1330.51L635.11 1302.81L640.44 1330.51L648 1302.81L651.11 1330.51L654.67 1275.11L672.89 1330.51L689.33 1275.11L696.89 1330.51L704 1275.11L710.22 1330.51L714.67 1275.11L720.44 1330.51L722.67 1275.11L726.22 1192.01L730.67 1275.11L736 1302.81L744 1330.51L752 1219.71L758.22 1302.81L761.78 1330.51L769.33 1275.11L772.44 1330.51L776 1275.11L781.33 1302.81L791.56 1330.51L802.67 1275.11L810.67 1302.81L816 1275.11L824 1330.51L830.22 1302.81L833.78 1330.51L840.44 1275.11L842.67 1302.81L844.44 1275.11L847.11 1302.81L849.78 1275.11L853.78 1302.81L861.33 1247.41L867.11 1330.51L873.78 1302.81L880.44 1247.41L886.22 1302.81L896 1247.41L906.22 1330.51L911.56 1275.11L913.78 1302.81L916 1275.11L918.22 1302.81L920.44 1275.11L924.89 1302.81L931.56 1330.51L940.44 1302.81L947.11 1330.51L958.22 1302.81L963.56 1219.71L969.33 1302.81L971.56 1330.51L975.11 1275.11L980.44 1330.51L985.78 1275.11L1003.56 1330.51L1022.67 1302.81L1028.44 1330.51L1034.67 1302.81L1039.11 1330.51L1044.89 1302.81L1048.44 1330.51L1058.67 1275.11L1064 1330.51L1072.44 1275.11L1081.78 1330.51L1088.44 1275.11L1092.44 1219.71L1097.33 1275.11L1100.89 1302.81L1107.11 1275.11L1112.89 1330.51L1118.67 1275.11L1120.44 1302.81L1122.67 1275.11L1124.89 1302.81L1126.67 1275.11L1135.11 1302.81L1143.56 1275.11L1152 1330.51L1158.22 1302.81L1167.11 1330.51L1177.33 1275.11L1186.22 1330.51L1190.67 1302.81L1195.11 1330.51L1200.44 1275.11L1204.44 1219.71L1209.33 1302.81L1214.22 1330.51L1220 1302.81L1222.67 1330.51L1226.22 1275.11L1230.67 1330.51L1236.44 1302.81L1239.56 1330.51L1244 1302.81L1252.89 1330.51L1261.78 1275.11L1270.67 1330.51L1282.67 1275.11L1293.78 1330.51L1309.33 1275.11L1313.33 1302.81L1316.89 1275.11L1326.22 1330.51L1333.78 1275.11L1336 1290.67L1338.22 1275.11L1346.22 1330.51L1357.33 1247.41L1363.11 1330.51L1366.67 1275.11L1372.89 1330.51L1379.56 1275.11L1385.33 1330.51L1389.78 1275.11L1394.22 1330.51L1399.56 1302.81L1403.11 1330.51L1406.22 1302.81L1412 1247.41L1417.33 1302.81L1421.78 1275.11" fill="none" stroke="#000080" stroke-width="0.55" stroke-linejoin="round"/>
<path d="M259 1192.01H271V1330.51H259" fill="none" stroke="#333" stroke-width="1"/>
<text x="252.1" y="1194.91" font-size="13" text-anchor="end" fill="#000">4</text>
<text x="252.1" y="1333.41" font-size="13" text-anchor="end" fill="#000">0</text>
<text x="73.4" y="1266.51" font-size="23.1" fill="#000">GSM2481684</text>
<path d="M271.56 1484.44L271.56 1484.44L271.78 1425.08L276.89 1484.44L289.33 1444.87L299.11 1484.44L305.78 1425.08L310.67 1405.3L316.89 1444.87L321.33 1425.08L324.89 1444.87L327.11 1484.44L331.56 1464.65L341.33 1484.44L350.22 1464.65L356.89 1405.3L361.33 1464.65L366.67 1484.44L372.44 1464.65L377.78 1425.08L380 1433.56L382.22 1405.3L387.11 1458L392.44 1385.51L396.89 1444.87L401.33 1464.65L408 1484.44L420.44 1444.87L432.44 1484.44L438.22 1464.65L443.56 1484.44L450.22 1464.65L456.89 1484.44L463.56 1464.65L468 1484.44L472.44 1464.65L475.11 1484.44L479.11 1444.87L484.89 1484.44L491.56 1444.87L496.89 1464.65L502.67 1444.87L508 1464.65L516.89 1484.44L527.56 1444.87L532.44 1464.65L536.44 1444.87L540 1405.3L543.56 1464.65L547.11 1444.87L551.56 1464.65L556 1444.87L558.22 1464.65L561.33 1444.87L565.78 1464.65L574.67 1444.87L579.11 1464.65L583.56 1444.87L588 1464.65L593.78 1425.08L599.11 1464.65L603.56 1444.87L608 1464.65L619.11 1484.44L628 1464.65L633.33 1425.08L639.11 1464.65L645.78 1405.3L653.78 1484.44L661.33 1425.08L668.44 1484.44L676.89 1464.65L684 1484.44L689.33 1464.65L693.78 1425.08L699.56 1484.44L704 1425.08L711.56 1484.44L719.56 1444.87L722.67 1484.44L727.11 1444.87L733.78 1484.44L740.44 1425.08L744.89 1464.65L754.67 1484.44L762.67 1464.65L767.11 1425.08L773.78 1458L777.33 1444.87L781.78 1464.65L787.11 1484.44L792.89 1464.65L796.44 1484.44L802.67 1444.87L810.67 1464.65L816.89 1425.08L823.56 1484.44L829.33 1425.08L833.78 1458L836.44 1405.3L838.22 1425.08L840.44 1345.94L842.67 1365.73L844.89 1444.87L848.44 1425.08L853.78 1464.65L862.67 1484.44L869.33 1464.65L872.89 1425.08L876 1444.87L879.11 1405.3L883.56 1464.65L888 1444.87L898.22 1484.44L904.89 1464.65L912.89 1484.44L923.56 1464.65L929.33 1484.44L935.11 1444.87L938.22 1464.65L940.44 1444.87L944.89 1464.65L951.56 1484.44L960.44 1464.65L966.22 1484.44L971.56 1444.87L974.67 1405.3L980.44 1484.44L985.78 1464.65L990.22 1484.44L997.33 1444.87L1002.67 1484.44L1008 1444.87L1012 1425.08L1016 1464.65L1021.33 1484.44L1030.67 1464.65L1036 1484.44L1040.44 1464.65L1053.78 1484.44L1065.33 1444.87L1069.33 1425.08L1076.44 1464.65L1084.89 1444.87L1088.44 1425.08L1092.89 1484.44L1096.44 1464.65L1099.56 1484.44L1103.11 1464.65L1111.56 1484.44L1119.56 1464.65L1131.56 1484.44L1140.89 1464.65L1144 1444.87L1148.44 1484.44L1156.44 1425.08L1160.44 1484.44L1164 1425.08L1169.78 1484.44L1189.78 1444.87L1196.44 1484.44L1202.67 1444.87L1212 1484.44L1216.44 1464.65L1222.67 1484.44L1228.44 1464.65L1231.56 1484.44L1236 1405.3L1239.56 1435.78L1246.22 1464.65L1253.78 1484.44L1258.22 1464.65L1260.89 1484.44L1264 1444.87L1266.22 1464.65L1269.33 1444.87L1271.56 1464.65L1274.22 1444.87L1283.11 1484.44L1287.11 1464.65L1290.67 1484.44L1300.89 1444.87L1304 1464.65L1306.67 1444.87L1311.56 1484.44L1317.33 1444.87L1324 1484.44L1328.44 1464.65L1339.56 1484.44L1350.67 1464.65L1354.22 1484.44L1361.78 1405.3L1369.33 1484.44L1380.44 1444.87L1395.11 1484.44L1399.56 1444.87L1406.22 1464.65L1412 1444.87L1414.22 1464.65L1416.44 1444.87L1424 1405.3L1424 1484.44Z" fill="#0000ff" stroke="none"/>
<path d="M271.56 1484.44L271.78 1425.08L276.89 1484.44L289.33 1444.87L299.11 1484.44L305.78 1425.08L310.67 1405.3L316.89 1444.87L321.33 1425.08L324.89 1444.87L327.11 1484.44L331.56 1464.65L341.33 1484.44L350.22 1464.65L356.89 1405.3L361.33 1464.65L366.67 1484.44L372.44 1464.65L377.78 1425.08L380 1433.56L382.22 1405.3L387.11 1458L392.44 1385.51L396.89 1444.87L401.33 1464.65L408 1484.44L420.44 1444.87L432.44 1484.44L438.22 1464.65L443.56 1484.44L450.22 1464.65L456.89 1484.44L463.56 1464.65L468 1484.44L472.44 1464.65L475.11 1484.44L479.11 1444.87L484.89 1484.44L491.56 1444.87L496.89 1464.65L502.67 1444.87L508 1464.65L516.89 1484.44L527.56 1444.87L532.44 1464.65L536.44 1444.87L540 1405.3L543.56 1464.65L547.11 1444.87L551.56 1464.65L556 1444.87L558.22 1464.65L561.33 1444.87L565.78 1464.65L574.67 1444.87L579.11 1464.65L583.56 1444.87L588 1464.65L593.78 1425.08L599.11 1464.65L603.56 1444.87L608 1464.65L619.11 1484.44L628 1464.65L633.33 1425.08L639.11 1464.65L645.78 1405.3L653.78 1484.44L661.33 1425.08L668.44 1484.44L676.89 1464.65L684 1484.44L689.33 1464.65L693.78 1425.08L699.56 1484.44L704 1425.08L711.56 1484.44L719.56 1444.87L722.67 1484.44L727.11 1444.87L733.78 1484.44L740.44 1425.08L744.89 1464.65L754.67 1484.44L762.67 1464.65L767.11 1425.08L773.78 1458L777.33 1444.87L781.78 1464.65L787.11 1484.44L792.89 1464.65L796.44 1484.44L802.67 1444.87L810.67 1464.65L816.89 1425.08L823.56 1484.44L829.33 1425.08L833.78 1458L836.44 1405.3L838.22 1425.08L840.44 1345.94L842.67 1365.73L844.89 1444.87L848.44 1425.08L853.78 1464.65L862.67 1484.44L869.33 1464.65L872.89 1425.08L876 1444.87L879.11 1405.3L883.56 1464.65L888 1444.87L898.22 1484.44L904.89 1464.65L912.89 1484.44L923.56 1464.65L929.33 1484.44L935.11 1444.87L938.22 1464.65L940.44 1444.87L944.89 1464.65L951.56 1484.44L960.44 1464.65L966.22 1484.44L971.56 1444.87L974.67 1405.3L980.44 1484.44L985.78 1464.65L990.22 1484.44L997.33 1444.87L1002.67 1484.44L1008 1444.87L1012 1425.08L1016 1464.65L1021.33 1484.44L1030.67 1464.65L1036 1484.44L1040.44 1464.65L1053.78 1484.44L1065.33 1444.87L1069.33 1425.08L1076.44 1464.65L1084.89 1444.87L1088.44 1425.08L1092.89 1484.44L1096.44 1464.65L1099.56 1484.44L1103.11 1464.65L1111.56 1484.44L1119.56 1464.65L1131.56 1484.44L1140.89 1464.65L1144 1444.87L1148.44 1484.44L1156.44 1425.08L1160.44 1484.44L1164 1425.08L1169.78 1484.44L1189.78 1444.87L1196.44 1484.44L1202.67 1444.87L1212 1484.44L1216.44 1464.65L1222.67 1484.44L1228.44 1464.65L1231.56 1484.44L1236 1405.3L1239.56 1435.78L1246.22 1464.65L1253.78 1484.44L1258.22 1464.65L1260.89 1484.44L1264 1444.87L1266.22 1464.65L1269.33 1444.87L1271.56 1464.65L1274.22 1444.87L1283.11 1484.44L1287.11 1464.65L1290.67 1484.44L1300.89 1444.87L1304 1464.65L1306.67 1444.87L1311.56 1484.44L1317.33 1444.87L1324 1484.44L1328.44 1464.65L1339.56 1484.44L1350.67 1464.65L1354.22 1484.44L1361.78 1405.3L1369.33 1484.44L1380.44 1444.87L1395.11 1484.44L1399.56 1444.87L1406.22 1464.65L1412 1444.87L1414.22 1464.65L1416.44 1444.87L1424 1405.3" fill="none" stroke="#000080" stroke-width="0.55" stroke-linejoin="round"/>
<path d="M259 1345.94H271V1484.44H259" fill="none" stroke="#333" stroke-width="1"/>
<text x="252.1" y="1348.84" font-size="13" text-anchor="end" fill="#000">7</text>
<text x="252.1" y="1487.34" font-size="13" text-anchor="end" fill="#000">0</text>
<text x="73.4" y="1420.44" font-size="23.1" fill="#000">GSM2481683</text>
<path d="M274.67 1638.37L274.67 1638.37L281.33 1582.97L284.89 1610.67L288.44 1582.97L295.56 1638.37L307.11 1582.97L314.67 1610.67L320 1582.97L326.67 1638.37L335.56 1610.67L341.33 1638.37L346.67 1582.97L361.33 1638.37L366.67 1610.67L376 1638.37L385.78 1582.97L390.22 1555.27L393.78 1610.67L396 1582.97L400.44 1638.37L407.11 1610.67L412.44 1638.37L419.56 1582.97L422.67 1610.67L428.89 1638.37L436.89 1610.67L459.11 1638.37L480.44 1610.67L485.78 1499.87L492.44 1610.67L495.56 1638.37L500 1610.67L505.78 1638.37L512.44 1582.97L517.78 1610.67L524 1555.27L529.33 1638.37L535.56 1610.67L543.56 1638.37L550.22 1610.67L559.11 1638.37L566.67 1610.67L570.22 1638.37L573.33 1582.97L580.44 1638.37L585.78 1610.67L593.33 1638.37L601.33 1610.67L603.56 1582.97L605.78 1610.67L620 1638.37L636 1610.67L639.56 1582.97L644.89 1610.67L670.67 1638.37L696 1610.67L700 1527.57L702.22 1555.27L705.33 1499.87L708.44 1527.57L711.56 1610.67L714.67 1638.37L717.78 1582.97L720.89 1638.37L724 1610.67L729.33 1638.37L736.44 1610.67L741.78 1638.37L748.44 1582.97L751.56 1610.67L761.78 1638.37L775.11 1582.97L787.11 1638.37L793.78 1527.57L798.22 1610.67L803.56 1638.37L810.67 1610.67L816.89 1638.37L823.56 1610.67L829.33 1638.37L837.33 1610.67L847.11 1638.37L854.67 1582.97L859.56 1638.37L864 1610.67L868.44 1638.37L873.78 1527.57L878.22 1610.67L880.44 1620.89L886.22 1555.27L891.56 1610.67L899.56 1638.37L906.22 1610.67L909.33 1638.37L916 1610.67L924.89 1638.37L941.78 1582.97L949.33 1638.37L958.22 1582.97L963.56 1638.37L973.78 1610.67L981.33 1555.27L985.78 1610.67L989.33 1582.97L992.89 1610.67L1000 1582.97L1007.11 1610.67L1010.67 1638.37L1015.11 1582.97L1020.44 1527.57L1024 1567.56L1026.22 1527.57L1030.67 1610.67L1039.11 1638.37L1048.44 1610.67L1053.78 1638.37L1061.78 1610.67L1069.78 1638.37L1077.78 1610.67L1084 1638.37L1088.44 1610.67L1091.56 1582.97L1094.22 1610.67L1099.56 1555.27L1104 1610.67L1110.67 1638.37L1117.33 1610.67L1120.44 1582.97L1122.67 1610.67L1124.89 1582.97L1127.11 1610.67L1129.78 1582.97L1132.89 1610.67L1137.33 1582.97L1144 1638.37L1149.33 1610.67L1152 1638.37L1157.33 1582.97L1160.44 1610.67L1163.56 1582.97L1168.44 1638.37L1172.89 1610.67L1181.78 1638.37L1192.89 1610.67L1196 1638.37L1201.78 1582.97L1204.89 1610.67L1208.44 1555.27L1212.89 1582.97L1217.33 1638.37L1226.22 1582.97L1235.11 1638.37L1243.11 1582.97L1248.44 1638.37L1252.89 1610.67L1256.44 1638.37L1260.89 1555.27L1266.22 1610.67L1272 1638.37L1280.89 1610.67L1286.22 1638.37L1292.89 1610.67L1298.22 1638.37L1305.33 1582.97L1311.56 1638.37L1316 1610.67L1324.89 1638.37L1333.78 1610.67L1337.33 1638.37L1344.89 1582.97L1349.78 1610.67L1356.44 1638.37L1364.89 1610.67L1375.11 1638.37L1386.22 1582.97L1392.89 1638.37L1399.56 1555.27L1407.56 1499.87L1409.33 1555.27L1410.67 1610.67L1412 1582.97L1419.56 1638.37L1421.78 1638.37L1423.11 1555.27L1423.11 1638.37Z" fill="#0000ff" stroke="none"/>
<path d="M274.67 1638.37L281.33 1582.97L284.89 1610.67L288.44 1582.97L295.56 1638.37L307.11 1582.97L314.67 1610.67L320 1582.97L326.67 1638.37L335.56 1610.67L341.33 1638.37L346.67 1582.97L361.33 1638.37L366.67 1610.67L376 1638.37L385.78 1582.97L390.22 1555.27L393.78 1610.67L396 1582.97L400.44 1638.37L407.11 1610.67L412.44 1638.37L419.56 1582.97L422.67 1610.67L428.89 1638.37L436.89 1610.67L459.11 1638.37L480.44 1610.67L485.78 1499.87L492.44 1610.67L495.56 1638.37L500 1610.67L505.78 1638.37L512.44 1582.97L517.78 1610.67L524 1555.27L529.33 1638.37L535.56 1610.67L543.56 1638.37L550.22 1610.67L559.11 1638.37L566.67 1610.67L570.22 1638.37L573.33 1582.97L580.44 1638.37L585.78 1610.67L593.33 1638.37L601.33 1610.67L603.56 1582.97L605.78 1610.67L620 1638.37L636 1610.67L639.56 1582.97L644.89 1610.67L670.67 1638.37L696 1610.67L700 1527.57L702.22 1555.27L705.33 1499.87L708.44 1527.57L711.56 1610.67L714.67 1638.37L717.78 1582.97L720.89 1638.37L724 1610.67L729.33 1638.37L736.44 1610.67L741.78 1638.37L748.44 1582.97L751.56 1610.67L761.78 1638.37L775.11 1582.97L787.11 1638.37L793.78 1527.57L798.22 1610.67L803.56 1638.37L810.67 1610.67L816.89 1638.37L823.56 1610.67L829.33 1638.37L837.33 1610.67L847.11 1638.37L854.67 1582.97L859.56 1638.37L864 1610.67L868.44 1638.37L873.78 1527.57L878.22 1610.67L880.44 1620.89L886.22 1555.27L891.56 1610.67L899.56 1638.37L906.22 1610.67L909.33 1638.37L916 1610.67L924.89 1638.37L941.78 1582.97L949.33 1638.37L958.22 1582.97L963.56 1638.37L973.78 1610.67L981.33 1555.27L985.78 1610.67L989.33 1582.97L992.89 1610.67L1000 1582.97L1007.11 1610.67L1010.67 1638.37L1015.11 1582.97L1020.44 1527.57L1024 1567.56L1026.22 1527.57L1030.67 1610.67L1039.11 1638.37L1048.44 1610.67L1053.78 1638.37L1061.78 1610.67L1069.78 1638.37L1077.78 1610.67L1084 1638.37L1088.44 1610.67L1091.56 1582.97L1094.22 1610.67L1099.56 1555.27L1104 1610.67L1110.67 1638.37L1117.33 1610.67L1120.44 1582.97L1122.67 1610.67L1124.89 1582.97L1127.11 1610.67L1129.78 1582.97L1132.89 1610.67L1137.33 1582.97L1144 1638.37L1149.33 1610.67L1152 1638.37L1157.33 1582.97L1160.44 1610.67L1163.56 1582.97L1168.44 1638.37L1172.89 1610.67L1181.78 1638.37L1192.89 1610.67L1196 1638.37L1201.78 1582.97L1204.89 1610.67L1208.44 1555.27L1212.89 1582.97L1217.33 1638.37L1226.22 1582.97L1235.11 1638.37L1243.11 1582.97L1248.44 1638.37L1252.89 1610.67L1256.44 1638.37L1260.89 1555.27L1266.22 1610.67L1272 1638.37L1280.89 1610.67L1286.22 1638.37L1292.89 1610.67L1298.22 1638.37L1305.33 1582.97L1311.56 1638.37L1316 1610.67L1324.89 1638.37L1333.78 1610.67L1337.33 1638.37L1344.89 1582.97L1349.78 1610.67L1356.44 1638.37L1364.89 1610.67L1375.11 1638.37L1386.22 1582.97L1392.89 1638.37L1399.56 1555.27L1407.56 1499.87L1409.33 1555.27L1410.67 1610.67L1412 1582.97L1419.56 1638.37L1421.78 1638.37L1423.11 1555.27" fill="none" stroke="#000080" stroke-width="0.55" stroke-linejoin="round"/>
<path d="M259 1499.87H271V1638.37H259" fill="none" stroke="#333" stroke-width="1"/>
<text x="252.1" y="1502.77" font-size="13" text-anchor="end" fill="#000">5</text>
<text x="252.1" y="1641.27" font-size="13" text-anchor="end" fill="#000">0</text>
<text x="73.4" y="1574.37" font-size="23.1" fill="#000">GSM2481682</text>
<path d="M273.33 1792.3L273.33 1792.3L276 1653.8L528 1792.3L778 1653.8L946.67 1792.3L1118 1653.8L1273.33 1792.3L1273.33 1792.3Z" fill="#0000ff" stroke="none"/>
<path d="M273.33 1792.3L276 1653.8L528 1792.3L778 1653.8L946.67 1792.3L1118 1653.8L1273.33 1792.3" fill="none" stroke="#000080" stroke-width="0.55" stroke-linejoin="round"/>
<path d="M259 1653.8H271V1792.3H259" fill="none" stroke="#333" stroke-width="1"/>
<text x="252.1" y="1656.7" font-size="13" text-anchor="end" fill="#000">69</text>
<text x="252.1" y="1795.2" font-size="13" text-anchor="end" fill="#000">0</text>
<text x="73.4" y="1728.3" font-size="23.1" fill="#000">GSM2481681</text>
<path d="M271.33 1946.23L271.33 1946.23L271.67 1877L331.33 1946.23L396 1877L504.67 1946.23L609.33 1877L614.67 1807.73L759.33 1946.23L904 1877L1006.67 1946.23L1112.67 1877L1159.33 1946.23L1204.67 1877L1315.33 1946.23L1315.33 1946.23Z" fill="#0000ff" stroke="none"/>
<path d="M271.33 1946.23L271.67 1877L331.33 1946.23L396 1877L504.67 1946.23L609.33 1877L614.67 1807.73L759.33 1946.23L904 1877L1006.67 1946.23L1112.67 1877L1159.33 1946.23L1204.67 1877L1315.33 1946.23" fill="none" stroke="#000080" stroke-width="0.55" stroke-linejoin="round"/>
<path d="M259 1807.73H271V1946.23H259" fill="none" stroke="#333" stroke-width="1"/>
<text x="252.1" y="1810.63" font-size="13" text-anchor="end" fill="#000">79</text>
<text x="252.1" y="1949.13" font-size="13" text-anchor="end" fill="#000">0</text>
<text x="73.4" y="1882.23" font-size="23.1" fill="#000">GSM2481680</text>
<path d="M341.33 2100.16L341.33 2100.16L413.33 2054.33L418.67 1961.66L453.33 2100.16L488 2054.33L490 2006.33L492.67 2054.33L540 2100.16L588 2054.33L809.33 2100.16L1028.67 2054.33L1032.67 2006.33L1036.67 2054.33L1231.33 2100.16L1231.33 2100.16Z" fill="#0000ff" stroke="none"/>
<path d="M341.33 2100.16L413.33 2054.33L418.67 1961.66L453.33 2100.16L488 2054.33L490 2006.33L492.67 2054.33L540 2100.16L588 2054.33L809.33 2100.16L1028.67 2054.33L1032.67 2006.33L1036.67 2054.33L1231.33 2100.16" fill="none" stroke="#000080" stroke-width="0.55" stroke-linejoin="round"/>
<path d="M259 1961.66H271V2100.16H259" fill="none" stroke="#333" stroke-width="1"/>
<text x="252.1" y="1964.56" font-size="13" text-anchor="end" fill="#000">111</text>
<text x="252.1" y="2103.06" font-size="13" text-anchor="end" fill="#000">0</text>
<text x="73.4" y="2036.16" font-size="23.1" fill="#000">GSM2481679</text>
<path d="M272.67 2254.09L272.67 2254.09L273.33 2115.67L301.33 2254.09L336.67 2115.67L446.67 2254.09L554.67 2115.67L570 2254.09L585.33 2115.67L718.67 2254.09L852 2115.67L991.33 2254.09L1130 2115.67L1174.67 2254.09L1221.33 2115.67L1236.67 2254.09L1252.67 2115.67L1338.67 2254.09L1338.67 2254.09Z" fill="#0000ff" stroke="none"/>
<path d="M272.67 2254.09L273.33 2115.67L301.33 2254.09L336.67 2115.67L446.67 2254.09L554.67 2115.67L570 2254.09L585.33 2115.67L718.67 2254.09L852 2115.67L991.33 2254.09L1130 2115.67L1174.67 2254.09L1221.33 2115.67L1236.67 2254.09L1252.67 2115.67L1338.67 2254.09" fill="none" stroke="#000080" stroke-width="0.55" stroke-linejoin="round"/>
<path d="M259 2115.59H271V2254.09H259" fill="none" stroke="#333" stroke-width="1"/>
<text x="252.1" y="2118.49" font-size="13" text-anchor="end" fill="#000">29</text>
<text x="252.1" y="2256.99" font-size="13" text-anchor="end" fill="#000">0</text>
<text x="73.4" y="2190.09" font-size="23.1" fill="#000">GSM2481678</text>
<path d="M276.89 2408.02L276.89 2408.02L283.56 2395.43L285.78 2382.84L301.33 2408.02L310.22 2370.25L314.67 2408.02L317.78 2395.43L321.33 2382.84L326.67 2408.02L330.22 2395.43L333.78 2408.02L343.56 2395.43L348.89 2382.84L350.67 2390.89L352.44 2382.84L354.67 2395.43L359.11 2357.66L363.56 2395.43L370.22 2408.02L374.67 2395.43L379.11 2408.02L385.78 2382.84L396.89 2408.02L408 2382.84L414.67 2408.02L420.44 2370.25L427.11 2404.22L433.33 2382.84L436.89 2408.02L443.56 2370.25L448 2390.89L452.44 2382.84L461.33 2408.02L471.11 2395.43L479.11 2408.02L491.11 2382.84L495.56 2408.02L500 2395.43L505.78 2408.02L513.33 2395.43L517.78 2370.25L522.22 2390.89L534.67 2408.02L552.44 2395.43L560 2382.84L570.22 2408.02L584.89 2382.84L589.33 2395.43L603.56 2408.02L616.89 2395.43L618.22 2382.84L620.44 2395.43L623.56 2390.89L627.11 2357.66L631.56 2395.43L636.89 2408.02L647.11 2395.43L654.67 2408.02L660.44 2395.43L664.89 2408.02L670.67 2370.25L677.33 2408.02L684 2382.84L686.22 2390.89L688.44 2382.84L690.67 2390.89L693.78 2382.84L699.56 2370.25L707.11 2408.02L716 2370.25L720.44 2395.43L725.78 2382.84L730.67 2395.43L735.11 2382.84L738.22 2395.43L741.33 2382.84L744.89 2408.02L749.33 2395.43L751.56 2408.02L758.67 2357.66L762.67 2382.84L769.33 2404.22L771.56 2408.02L776 2370.25L780.44 2408.02L785.78 2382.84L791.56 2408.02L797.33 2395.43L801.78 2408.02L809.33 2382.84L814.67 2370.25L824 2357.66L830.22 2370.25L831.56 2408.02L836 2382.84L838.22 2395.43L848.44 2319.88L851.56 2370.25L854.67 2377.56L857.33 2370.25L861.33 2395.43L864.89 2357.66L869.33 2319.88L872.44 2350.89L878.22 2294.7L881.33 2307.29L884.89 2370.25L888 2382.84L892.44 2370.25L896 2382.84L900.44 2332.47L904 2307.29L909.33 2370.25L918.22 2408.02L923.56 2382.84L929.33 2408.02L934.67 2382.84L948 2395.43L961.78 2370.25L967.11 2408.02L972.44 2382.84L978.22 2395.43L987.11 2408.02L993.78 2395.43L999.11 2370.25L1001.78 2382.84L1007.11 2370.25L1013.78 2269.52L1016.89 2307.29L1022.67 2370.25L1024.89 2382.84L1027.11 2370.25L1032.89 2395.43L1037.33 2382.84L1041.78 2408.02L1047.11 2357.66L1055.11 2408.02L1061.78 2370.25L1066.22 2395.43L1069.33 2382.84L1072.89 2395.43L1084 2408.02L1097.33 2395.43L1101.78 2370.25L1106.22 2408.02L1109.33 2382.84L1116 2408.02L1121.78 2382.84L1124.89 2408.02L1128.44 2395.43L1131.56 2408.02L1139.56 2382.84L1150.67 2408.02L1158.67 2395.43L1163.11 2408.02L1166.22 2382.84L1173.78 2345.07L1177.33 2395.43L1181.78 2382.84L1188.89 2307.29L1194.22 2357.66L1199.56 2382.84L1202.67 2408.02L1209.33 2382.84L1212.89 2357.66L1214.67 2366.44L1216.89 2357.66L1226.22 2395.43L1233.78 2370.25L1241.78 2395.43L1245.33 2382.84L1249.33 2408.02L1253.78 2395.43L1263.11 2408.02L1272.89 2395.43L1278.22 2382.84L1282.67 2408.02L1288.44 2382.84L1292.89 2395.43L1300.89 2357.66L1305.33 2370.25L1309.78 2408.02L1317.33 2370.25L1321.78 2408.02L1327.11 2382.84L1329.33 2395.43L1332.89 2382.84L1338.22 2408.02L1344 2395.43L1348.44 2408.02L1354.22 2382.84L1357.33 2408.02L1360.44 2382.84L1364.89 2395.43L1377.33 2408.02L1387.56 2370.25L1399.56 2408.02L1406.22 2382.84L1409.33 2395.43L1416.44 2345.07L1418.67 2357.66L1421.78 2408.02L1421.78 2408.02Z" fill="#0000ff" stroke="none"/>
<path d="M276.89 2408.02L283.56 2395.43L285.78 2382.84L301.33 2408.02L310.22 2370.25L314.67 2408.02L317.78 2395.43L321.33 2382.84L326.67 2408.02L330.22 2395.43L333.78 2408.02L343.56 2395.43L348.89 2382.84L350.67 2390.89L352.44 2382.84L354.67 2395.43L359.11 2357.66L363.56 2395.43L370.22 2408.02L374.67 2395.43L379.11 2408.02L385.78 2382.84L396.89 2408.02L408 2382.84L414.67 2408.02L420.44 2370.25L427.11 2404.22L433.33 2382.84L436.89 2408.02L443.56 2370.25L448 2390.89L452.44 2382.84L461.33 2408.02L471.11 2395.43L479.11 2408.02L491.11 2382.84L495.56 2408.02L500 2395.43L505.78 2408.02L513.33 2395.43L517.78 2370.25L522.22 2390.89L534.67 2408.02L552.44 2395.43L560 2382.84L570.22 2408.02L584.89 2382.84L589.33 2395.43L603.56 2408.02L616.89 2395.43L618.22 2382.84L620.44 2395.43L623.56 2390.89L627.11 2357.66L631.56 2395.43L636.89 2408.02L647.11 2395.43L654.67 2408.02L660.44 2395.43L664.89 2408.02L670.67 2370.25L677.33 2408.02L684 2382.84L686.22 2390.89L688.44 2382.84L690.67 2390.89L693.78 2382.84L699.56 2370.25L707.11 2408.02L716 2370.25L720.44 2395.43L725.78 2382.84L730.67 2395.43L735.11 2382.84L738.22 2395.43L741.33 2382.84L744.89 2408.02L749.33 2395.43L751.56 2408.02L758.67 2357.66L762.67 2382.84L769.33 2404.22L771.56 2408.02L776 2370.25L780.44 2408.02L785.78 2382.84L791.56 2408.02L797.33 2395.43L801.78 2408.02L809.33 2382.84L814.67 2370.25L824 2357.66L830.22 2370.25L831.56 2408.02L836 2382.84L838.22 2395.43L848.44 2319.88L851.56 2370.25L854.67 2377.56L857.33 2370.25L861.33 2395.43L864.89 2357.66L869.33 2319.88L872.44 2350.89L878.22 2294.7L881.33 2307.29L884.89 2370.25L888 2382.84L892.44 2370.25L896 2382.84L900.44 2332.47L904 2307.29L909.33 2370.25L918.22 2408.02L923.56 2382.84L929.33 2408.02L934.67 2382.84L948 2395.43L961.78 2370.25L967.11 2408.02L972.44 2382.84L978.22 2395.43L987.11 2408.02L993.78 2395.43L999.11 2370.25L1001.78 2382.84L1007.11 2370.25L1013.78 2269.52L1016.89 2307.29L1022.67 2370.25L1024.89 2382.84L1027.11 2370.25L1032.89 2395.43L1037.33 2382.84L1041.78 2408.02L1047.11 2357.66L1055.11 2408.02L1061.78 2370.25L1066.22 2395.43L1069.33 2382.84L1072.89 2395.43L1084 2408.02L1097.33 2395.43L1101.78 2370.25L1106.22 2408.02L1109.33 2382.84L1116 2408.02L1121.78 2382.84L1124.89 2408.02L1128.44 2395.43L1131.56 2408.02L1139.56 2382.84L1150.67 2408.02L1158.67 2395.43L1163.11 2408.02L1166.22 2382.84L1173.78 2345.07L1177.33 2395.43L1181.78 2382.84L1188.89 2307.29L1194.22 2357.66L1199.56 2382.84L1202.67 2408.02L1209.33 2382.84L1212.89 2357.66L1214.67 2366.44L1216.89 2357.66L1226.22 2395.43L1233.78 2370.25L1241.78 2395.43L1245.33 2382.84L1249.33 2408.02L1253.78 2395.43L1263.11 2408.02L1272.89 2395.43L1278.22 2382.84L1282.67 2408.02L1288.44 2382.84L1292.89 2395.43L1300.89 2357.66L1305.33 2370.25L1309.78 2408.02L1317.33 2370.25L1321.78 2408.02L1327.11 2382.84L1329.33 2395.43L1332.89 2382.84L1338.22 2408.02L1344 2395.43L1348.44 2408.02L1354.22 2382.84L1357.33 2408.02L1360.44 2382.84L1364.89 2395.43L1377.33 2408.02L1387.56 2370.25L1399.56 2408.02L1406.22 2382.84L1409.33 2395.43L1416.44 2345.07L1418.67 2357.66L1421.78 2408.02" fill="none" stroke="#000080" stroke-width="0.55" stroke-linejoin="round"/>
<path d="M259 2269.52H271V2408.02H259" fill="none" stroke="#333" stroke-width="1"/>
<text x="252.1" y="2272.42" font-size="13" text-anchor="end" fill="#000">8</text>
<text x="252.1" y="2410.92" font-size="13" text-anchor="end" fill="#000">0</text>
<text x="73.4" y="2344.02" font-size="23.1" fill="#000">GSM2481677</text>
<path d="M808 2561.95L808 2561.95L1348.67 2423.67L1386.67 2561.95L1386.67 2561.95Z" fill="#0000ff" stroke="none"/>
<path d="M808 2561.95L1348.67 2423.67L1386.67 2561.95" fill="none" stroke="#000080" stroke-width="0.55" stroke-linejoin="round"/>
<path d="M259 2423.45H271V2561.95H259" fill="none" stroke="#333" stroke-width="1"/>
<text x="252.1" y="2426.35" font-size="13" text-anchor="end" fill="#000">174</text>
<text x="252.1" y="2564.85" font-size="13" text-anchor="end" fill="#000">0</text>
<text x="73.4" y="2497.95" font-size="23.1" fill="#000">GSM2481676</text>
<path d="M272.44 2715.88L272.44 2715.88L272.67 2681.26L274.67 2646.63L277.78 2681.26L295.56 2715.88L316 2681.26L322.22 2715.88L328.89 2646.63L333.78 2681.26L342.67 2715.88L347.11 2681.26L354.67 2646.63L356.89 2681.26L374.67 2715.88L391.56 2681.26L400.44 2715.88L414.67 2681.26L427.11 2715.88L437.78 2681.26L456.89 2715.88L473.78 2681.26L486.67 2715.88L499.11 2681.26L510.22 2715.88L516.89 2681.26L520.44 2646.63L523.56 2698.89L527.11 2646.63L538.22 2715.88L552.44 2681.26L556.89 2715.88L563.56 2681.26L567.11 2646.63L570.22 2715.88L574.67 2681.26L580.44 2646.63L584.44 2681.26L601.33 2715.88L619.11 2681.26L622.67 2646.63L625.33 2681.26L628.89 2612.01L631.56 2646.63L674.67 2715.88L719.11 2681.26L746.22 2715.88L773.78 2681.26L821.33 2715.88L869.33 2681.26L872 2646.63L874.67 2681.26L887.11 2715.88L899.56 2681.26L910.67 2715.88L921.33 2681.26L924.89 2715.88L930.22 2681.26L934.67 2715.88L939.56 2681.26L956 2715.88L971.56 2681.26L978.22 2715.88L984.89 2681.26L992.44 2715.88L998.22 2681.26L1001.78 2646.63L1006.22 2681.26L1011.56 2646.63L1016.89 2715.88L1024 2646.63L1031.56 2715.88L1038.22 2646.63L1040.89 2715.88L1045.33 2646.63L1066.22 2715.88L1089.78 2681.26L1104.89 2715.88L1119.56 2646.63L1126.22 2715.88L1129.78 2681.26L1137.33 2715.88L1144.89 2681.26L1157.33 2715.88L1171.56 2681.26L1192 2715.88L1210.67 2681.26L1213.78 2612.01L1217.33 2667.78L1223.11 2577.38L1226.22 2681.26L1232 2715.88L1238.22 2681.26L1247.11 2715.88L1260.44 2681.26L1266.22 2715.88L1271.56 2681.26L1279.56 2715.88L1288.44 2681.26L1322.67 2715.88L1355.11 2681.26L1359.56 2715.88L1366.22 2681.26L1379.56 2715.88L1397.33 2681.26L1403.11 2646.63L1405.33 2667.78L1407.56 2646.63L1412 2715.88L1416.44 2681.26L1420.89 2715.88L1420.89 2715.88Z" fill="#0000ff" stroke="none"/>
<path d="M272.44 2715.88L272.67 2681.26L274.67 2646.63L277.78 2681.26L295.56 2715.88L316 2681.26L322.22 2715.88L328.89 2646.63L333.78 2681.26L342.67 2715.88L347.11 2681.26L354.67 2646.63L356.89 2681.26L374.67 2715.88L391.56 2681.26L400.44 2715.88L414.67 2681.26L427.11 2715.88L437.78 2681.26L456.89 2715.88L473.78 2681.26L486.67 2715.88L499.11 2681.26L510.22 2715.88L516.89 2681.26L520.44 2646.63L523.56 2698.89L527.11 2646.63L538.22 2715.88L552.44 2681.26L556.89 2715.88L563.56 2681.26L567.11 2646.63L570.22 2715.88L574.67 2681.26L580.44 2646.63L584.44 2681.26L601.33 2715.88L619.11 2681.26L622.67 2646.63L625.33 2681.26L628.89 2612.01L631.56 2646.63L674.67 2715.88L719.11 2681.26L746.22 2715.88L773.78 2681.26L821.33 2715.88L869.33 2681.26L872 2646.63L874.67 2681.26L887.11 2715.88L899.56 2681.26L910.67 2715.88L921.33 2681.26L924.89 2715.88L930.22 2681.26L934.67 2715.88L939.56 2681.26L956 2715.88L971.56 2681.26L978.22 2715.88L984.89 2681.26L992.44 2715.88L998.22 2681.26L1001.78 2646.63L1006.22 2681.26L1011.56 2646.63L1016.89 2715.88L1024 2646.63L1031.56 2715.88L1038.22 2646.63L1040.89 2715.88L1045.33 2646.63L1066.22 2715.88L1089.78 2681.26L1104.89 2715.88L1119.56 2646.63L1126.22 2715.88L1129.78 2681.26L1137.33 2715.88L1144.89 2681.26L1157.33 2715.88L1171.56 2681.26L1192 2715.88L1210.67 2681.26L1213.78 2612.01L1217.33 2667.78L1223.11 2577.38L1226.22 2681.26L1232 2715.88L1238.22 2681.26L1247.11 2715.88L1260.44 2681.26L1266.22 2715.88L1271.56 2681.26L1279.56 2715.88L1288.44 2681.26L1322.67 2715.88L1355.11 2681.26L1359.56 2715.88L1366.22 2681.26L1379.56 2715.88L1397.33 2681.26L1403.11 2646.63L1405.33 2667.78L1407.56 2646.63L1412 2715.88L1416.44 2681.26L1420.89 2715.88" fill="none" stroke="#000080" stroke-width="0.55" stroke-linejoin="round"/>
<path d="M259 2577.38H271V2715.88H259" fill="none" stroke="#333" stroke-width="1"/>
<text x="252.1" y="2580.28" font-size="13" text-anchor="end" fill="#000">10</text>
<text x="252.1" y="2718.78" font-size="13" text-anchor="end" fill="#000">0</text>
<text x="73.4" y="2651.88" font-size="23.1" fill="#000">GSM2481675</text>
<path d="M502 2869.81L502 2869.81L738 2731.31L1083.33 2869.81L1083.33 2869.81Z" fill="#0000ff" stroke="none"/>
<path d="M502 2869.81L738 2731.31L1083.33 2869.81" fill="none" stroke="#000080" stroke-width="0.55" stroke-linejoin="round"/>
<path d="M259 2731.31H271V2869.81H259" fill="none" stroke="#333" stroke-width="1"/>
<text x="252.1" y="2734.21" font-size="13" text-anchor="end" fill="#000">120</text>
<text x="252.1" y="2872.71" font-size="13" text-anchor="end" fill="#000">0</text>
<text x="73.4" y="2805.81" font-size="23.1" fill="#000">GSM2481674</text>
<path d="M279.11 3023.74L279.11 3023.74L290.67 2885.24L295.56 3023.74L299.11 2931.41L312.44 3023.74L324.89 2977.57L328.44 2931.41L332.44 2977.57L342.22 3023.74L355.56 2977.57L395.56 3023.74L434.67 2977.57L437.33 2931.41L440.44 2977.57L465.78 3023.74L489.33 2931.41L493.78 2977.57L531.11 3023.74L574.67 2977.57L580.44 3023.74L584.44 2977.57L612.44 3023.74L641.33 2977.57L691.56 3023.74L741.78 2977.57L767.11 3023.74L790.67 2977.57L796.44 2931.41L802.67 3023.74L810.67 2977.57L816.89 3023.74L824 2931.41L830.67 3023.74L837.33 2977.57L839.56 3023.74L844.44 2977.57L856.89 3023.74L866.67 2977.57L874.67 3023.74L883.56 2977.57L898.22 3023.74L912.89 2977.57L934.67 3023.74L954.67 2977.57L959.56 3023.74L967.11 2931.41L975.11 3023.74L984.89 2977.57L993.78 3023.74L1000.44 2977.57L1019.56 3023.74L1038.22 2977.57L1050.67 3023.74L1064 2977.57L1070.67 2885.24L1075.11 3023.74L1083.11 2931.41L1088.44 2977.57L1092.89 2931.41L1098.22 2977.57L1112 3023.74L1121.78 2977.57L1124.89 2931.41L1128.44 2977.57L1135.11 3023.74L1141.78 2977.57L1147.11 3023.74L1154.22 2885.24L1158.67 2977.57L1167.56 3023.74L1175.11 2931.41L1177.33 2977.57L1189.33 3023.74L1201.33 2977.57L1209.78 3023.74L1219.11 2977.57L1224 3023.74L1229.78 2885.24L1232.89 2931.41L1256.44 3023.74L1281.78 2977.57L1286.22 3023.74L1291.56 2931.41L1299.56 3023.74L1304 2977.57L1321.78 3023.74L1337.33 2977.57L1341.78 2931.41L1345.33 2977.57L1357.33 3023.74L1368.44 2977.57L1373.78 2931.41L1381.78 2977.57L1385.33 3023.74L1389.78 2977.57L1394.22 3023.74L1398.67 2931.41L1403.11 2977.57L1413.78 3023.74L1423.11 2977.57L1423.11 3023.74Z" fill="#0000ff" stroke="none"/>
<path d="M279.11 3023.74L290.67 2885.24L295.56 3023.74L299.11 2931.41L312.44 3023.74L324.89 2977.57L328.44 2931.41L332.44 2977.57L342.22 3023.74L355.56 2977.57L395.56 3023.74L434.67 2977.57L437.33 2931.41L440.44 2977.57L465.78 3023.74L489.33 2931.41L493.78 2977.57L531.11 3023.74L574.67 2977.57L580.44 3023.74L584.44 2977.57L612.44 3023.74L641.33 2977.57L691.56 3023.74L741.78 2977.57L767.11 3023.74L790.67 2977.57L796.44 2931.41L802.67 3023.74L810.67 2977.57L816.89 3023.74L824 2931.41L830.67 3023.74L837.33 2977.57L839.56 3023.74L844.44 2977.57L856.89 3023.74L866.67 2977.57L874.67 3023.74L883.56 2977.57L898.22 3023.74L912.89 2977.57L934.67 3023.74L954.67 2977.57L959.56 3023.74L967.11 2931.41L975.11 3023.74L984.89 2977.57L993.78 3023.74L1000.44 2977.57L1019.56 3023.74L1038.22 2977.57L1050.67 3023.74L1064 2977.57L1070.67 2885.24L1075.11 3023.74L1083.11 2931.41L1088.44 2977.57L1092.89 2931.41L1098.22 2977.57L1112 3023.74L1121.78 2977.57L1124.89 2931.41L1128.44 2977.57L1135.11 3023.74L1141.78 2977.57L1147.11 3023.74L1154.22 2885.24L1158.67 2977.57L1167.56 3023.74L1175.11 2931.41L1177.33 2977.57L1189.33 3023.74L1201.33 2977.57L1209.78 3023.74L1219.11 2977.57L1224 3023.74L1229.78 2885.24L1232.89 2931.41L1256.44 3023.74L1281.78 2977.57L1286.22 3023.74L1291.56 2931.41L1299.56 3023.74L1304 2977.57L1321.78 3023.74L1337.33 2977.57L1341.78 2931.41L1345.33 2977.57L1357.33 3023.74L1368.44 2977.57L1373.78 2931.41L1381.78 2977.57L1385.33 3023.74L1389.78 2977.57L1394.22 3023.74L1398.67 2931.41L1403.11 2977.57L1413.78 3023.74L1423.11 2977.57" fill="none" stroke="#000080" stroke-width="0.55" stroke-linejoin="round"/>
<path d="M259 2885.24H271V3023.74H259" fill="none" stroke="#333" stroke-width="1"/>
<text x="252.1" y="2888.14" font-size="13" text-anchor="end" fill="#000">9</text>
<text x="252.1" y="3026.64" font-size="13" text-anchor="end" fill="#000">0</text>
<text x="73.4" y="2959.74" font-size="23.1" fill="#000">GSM2481673</text>
<path d="M373.33 3177.67L373.33 3177.67L478.67 3039.17L674.67 3177.67L871.33 3039.17L1071.33 3177.67L1271.33 3039.17L1290 3177.67L1311.33 3039.17L1315.33 3151L1320 3039.17L1373.33 3177.67L1373.33 3177.67Z" fill="#0000ff" stroke="none"/>
<path d="M373.33 3177.67L478.67 3039.17L674.67 3177.67L871.33 3039.17L1071.33 3177.67L1271.33 3039.17L1290 3177.67L1311.33 3039.17L1315.33 3151L1320 3039.17L1373.33 3177.67" fill="none" stroke="#000080" stroke-width="0.55" stroke-linejoin="round"/>
<path d="M259 3039.17H271V3177.67H259" fill="none" stroke="#333" stroke-width="1"/>
<text x="252.1" y="3042.07" font-size="13" text-anchor="end" fill="#000">38</text>
<text x="252.1" y="3180.57" font-size="13" text-anchor="end" fill="#000">0</text>
<text x="73.4" y="3113.67" font-size="23.1" fill="#000">GSM2481672</text>
<path d="M345.78 3331.6L345.78 3331.6L424.89 3296.98L440.44 3331.6L453.78 3296.98L455.56 3319.33L457.33 3331.6L468 3262.35L486.67 3331.6L508.89 3296.98L565.78 3331.6L621.33 3296.98L623.56 3262.35L626.22 3296.98L637.78 3331.6L651.11 3296.98L655.11 3331.6L663.11 3296.98L688 3331.6L709.33 3296.98L712 3331.6L718.67 3262.35L722.67 3296.98L736 3331.6L750.67 3296.98L754.22 3262.35L758.22 3331.6L764.89 3296.98L769.33 3331.6L775.11 3262.35L779.56 3331.6L784 3296.98L802.67 3331.6L824 3296.98L829.33 3262.35L832 3193.1L836 3262.35L838.22 3331.6L844 3296.98L848.44 3331.6L852.89 3296.98L875.11 3331.6L898.22 3296.98L901.33 3331.6L907.11 3262.35L909.33 3296.98L935.11 3331.6L962.67 3296.98L968.44 3331.6L977.33 3262.35L984.89 3331.6L993.78 3296.98L997.33 3262.35L1000.44 3296.98L1012.89 3331.6L1027.11 3296.98L1037.33 3331.6L1047.11 3296.98L1059.56 3331.6L1074.22 3296.98L1083.11 3331.6L1089.78 3296.98L1093.78 3331.6L1098.22 3296.98L1100.89 3331.6L1107.11 3296.98L1124.89 3331.6L1140.89 3296.98L1145.33 3331.6L1152 3296.98L1160.44 3331.6L1170.67 3262.35L1177.33 3331.6L1180.44 3296.98L1186.22 3331.6L1189.78 3296.98L1192.89 3227.73L1196 3279.33L1198.22 3262.35L1200.89 3296.98L1205.33 3262.35L1215.11 3331.6L1228.44 3296.98L1238.22 3331.6L1249.33 3296.98L1285.33 3331.6L1321.78 3296.98L1352 3331.6L1381.78 3296.98L1387.11 3331.6L1394.22 3296.98L1409.33 3331.6L1422.67 3296.98L1422.67 3331.6Z" fill="#0000ff" stroke="none"/>
<path d="M345.78 3331.6L424.89 3296.98L440.44 3331.6L453.78 3296.98L455.56 3319.33L457.33 3331.6L468 3262.35L486.67 3331.6L508.89 3296.98L565.78 3331.6L621.33 3296.98L623.56 3262.35L626.22 3296.98L637.78 3331.6L651.11 3296.98L655.11 3331.6L663.11 3296.98L688 3331.6L709.33 3296.98L712 3331.6L718.67 3262.35L722.67 3296.98L736 3331.6L750.67 3296.98L754.22 3262.35L758.22 3331.6L764.89 3296.98L769.33 3331.6L775.11 3262.35L779.56 3331.6L784 3296.98L802.67 3331.6L824 3296.98L829.33 3262.35L832 3193.1L836 3262.35L838.22 3331.6L844 3296.98L848.44 3331.6L852.89 3296.98L875.11 3331.6L898.22 3296.98L901.33 3331.6L907.11 3262.35L909.33 3296.98L935.11 3331.6L962.67 3296.98L968.44 3331.6L977.33 3262.35L984.89 3331.6L993.78 3296.98L997.33 3262.35L1000.44 3296.98L1012.89 3331.6L1027.11 3296.98L1037.33 3331.6L1047.11 3296.98L1059.56 3331.6L1074.22 3296.98L1083.11 3331.6L1089.78 3296.98L1093.78 3331.6L1098.22 3296.98L1100.89 3331.6L1107.11 3296.98L1124.89 3331.6L1140.89 3296.98L1145.33 3331.6L1152 3296.98L1160.44 3331.6L1170.67 3262.35L1177.33 3331.6L1180.44 3296.98L1186.22 3331.6L1189.78 3296.98L1192.89 3227.73L1196 3279.33L1198.22 3262.35L1200.89 3296.98L1205.33 3262.35L1215.11 3331.6L1228.44 3296.98L1238.22 3331.6L1249.33 3296.98L1285.33 3331.6L1321.78 3296.98L1352 3331.6L1381.78 3296.98L1387.11 3331.6L1394.22 3296.98L1409.33 3331.6L1422.67 3296.98" fill="none" stroke="#000080" stroke-width="0.55" stroke-linejoin="round"/>
<path d="M259 3193.1H271V3331.6H259" fill="none" stroke="#333" stroke-width="1"/>
<text x="252.1" y="3196" font-size="13" text-anchor="end" fill="#000">15</text>
<text x="252.1" y="3334.5" font-size="13" text-anchor="end" fill="#000">0</text>
<text x="73.4" y="3267.6" font-size="23.1" fill="#000">GSM2481671</text>
<path d="M376 3485.53L376 3485.53L483.33 3347.03L954.67 3485.53L954.67 3485.53Z" fill="#0000ff" stroke="none"/>
<path d="M376 3485.53L483.33 3347.03L954.67 3485.53" fill="none" stroke="#000080" stroke-width="0.55" stroke-linejoin="round"/>
<path d="M259 3347.03H271V3485.53H259" fill="none" stroke="#333" stroke-width="1"/>
<text x="252.1" y="3349.93" font-size="13" text-anchor="end" fill="#000">129</text>
<text x="252.1" y="3488.43" font-size="13" text-anchor="end" fill="#000">0</text>
<text x="73.4" y="3421.53" font-size="23.1" fill="#000">GSM2481670</text>
<path d="M271.56 3639.46L271.56 3639.46L271.78 3611.76L274.67 3639.46L280 3584.06L291.11 3639.46L295.56 3611.76L297.78 3639.46L300 3611.76L303.56 3639.46L310.22 3556.36L314.67 3611.76L316.89 3584.06L321.33 3639.46L324.89 3611.76L327.11 3639.46L330.22 3611.76L333.78 3639.46L342.22 3584.06L349.33 3639.46L357.78 3584.06L362.22 3611.76L371.11 3639.46L385.78 3611.76L388.89 3639.46L392.44 3584.06L395.56 3611.76L402.22 3639.46L411.11 3611.76L413.78 3639.46L416.89 3611.76L420 3639.46L423.56 3611.76L427.11 3639.46L430.22 3626.33L433.78 3584.06L436.89 3639.46L440.44 3556.36L444.89 3639.46L449.33 3611.76L456.89 3639.46L465.78 3584.06L473.33 3639.46L482.22 3584.06L486.67 3639.46L491.56 3556.36L494.67 3626.33L499.56 3556.36L503.56 3639.46L511.56 3584.06L519.11 3639.46L522.67 3611.76L528 3639.46L533.78 3611.76L539.11 3639.46L547.11 3584.06L561.33 3639.46L576 3584.06L580.44 3639.46L584.44 3584.06L590.22 3639.46L594.67 3611.76L599.11 3639.46L606.67 3611.76L618.22 3639.46L625.78 3611.76L628.89 3584.06L631.56 3611.76L639.11 3639.46L650.22 3611.76L659.11 3639.46L663.11 3611.76L674.67 3639.46L686.22 3611.76L692.44 3639.46L700.44 3584.06L704 3528.66L707.11 3556.36L720.44 3639.46L736.89 3584.06L740.44 3611.76L743.56 3556.36L747.11 3639.46L756.44 3584.06L764.89 3639.46L769.78 3611.76L772.89 3639.46L781.33 3584.06L784.89 3639.46L788 3611.76L803.56 3639.46L819.56 3584.06L824 3639.46L828 3584.06L830.22 3611.76L838.22 3639.46L848 3611.76L852.89 3556.36L856.89 3621.89L859.11 3584.06L861.33 3621.89L868.44 3556.36L875.56 3611.76L880.89 3584.06L884.89 3639.46L889.33 3611.76L892.44 3639.46L896.89 3584.06L902.67 3639.46L909.33 3584.06L913.78 3611.76L922.67 3639.46L930.22 3584.06L944 3639.46L955.11 3584.06L961.78 3639.46L966.22 3611.76L969.78 3639.46L973.78 3584.06L976.89 3611.76L989.33 3639.46L1002.67 3556.36L1007.11 3639.46L1011.56 3584.06L1022.67 3639.46L1033.78 3584.06L1039.11 3639.46L1051.56 3584.06L1057.33 3639.46L1061.78 3611.76L1070.67 3639.46L1080.44 3611.76L1085.33 3528.66L1087.56 3544.11L1090.67 3500.96L1093.78 3584.06L1097.33 3639.46L1106.22 3528.66L1109.33 3584.06L1125.33 3639.46L1146.22 3611.76L1152.89 3639.46L1158.22 3584.06L1161.78 3611.76L1171.56 3639.46L1181.78 3584.06L1185.33 3556.36L1189.33 3611.76L1195.11 3556.36L1201.78 3639.46L1206.22 3611.76L1224 3639.46L1243.11 3611.76L1249.33 3639.46L1255.11 3584.06L1258.67 3639.46L1261.78 3584.06L1264 3611.76L1272.89 3639.46L1285.33 3584.06L1291.56 3639.46L1297.33 3611.76L1299.56 3639.46L1303.11 3584.06L1309.78 3611.76L1317.33 3556.36L1328.44 3639.46L1341.78 3611.76L1344.89 3639.46L1349.78 3556.36L1354.22 3601.89L1359.56 3556.36L1363.11 3611.76L1372 3639.46L1380.44 3584.06L1388.44 3639.46L1392 3611.76L1395.11 3639.46L1399.56 3611.76L1406.22 3639.46L1412.89 3611.76L1419.56 3639.46L1423.11 3584.06L1423.11 3639.46Z" fill="#0000ff" stroke="none"/>
<path d="M271.56 3639.46L271.78 3611.76L274.67 3639.46L280 3584.06L291.11 3639.46L295.56 3611.76L297.78 3639.46L300 3611.76L303.56 3639.46L310.22 3556.36L314.67 3611.76L316.89 3584.06L321.33 3639.46L324.89 3611.76L327.11 3639.46L330.22 3611.76L333.78 3639.46L342.22 3584.06L349.33 3639.46L357.78 3584.06L362.22 3611.76L371.11 3639.46L385.78 3611.76L388.89 3639.46L392.44 3584.06L395.56 3611.76L402.22 3639.46L411.11 3611.76L413.78 3639.46L416.89 3611.76L420 3639.46L423.56 3611.76L427.11 3639.46L430.22 3626.33L433.78 3584.06L436.89 3639.46L440.44 3556.36L444.89 3639.46L449.33 3611.76L456.89 3639.46L465.78 3584.06L473.33 3639.46L482.22 3584.06L486.67 3639.46L491.56 3556.36L494.67 3626.33L499.56 3556.36L503.56 3639.46L511.56 3584.06L519.11 3639.46L522.67 3611.76L528 3639.46L533.78 3611.76L539.11 3639.46L547.11 3584.06L561.33 3639.46L576 3584.06L580.44 3639.46L584.44 3584.06L590.22 3639.46L594.67 3611.76L599.11 3639.46L606.67 3611.76L618.22 3639.46L625.78 3611.76L628.89 3584.06L631.56 3611.76L639.11 3639.46L650.22 3611.76L659.11 3639.46L663.11 3611.76L674.67 3639.46L686.22 3611.76L692.44 3639.46L700.44 3584.06L704 3528.66L707.11 3556.36L720.44 3639.46L736.89 3584.06L740.44 3611.76L743.56 3556.36L747.11 3639.46L756.44 3584.06L764.89 3639.46L769.78 3611.76L772.89 3639.46L781.33 3584.06L784.89 3639.46L788 3611.76L803.56 3639.46L819.56 3584.06L824 3639.46L828 3584.06L830.22 3611.76L838.22 3639.46L848 3611.76L852.89 3556.36L856.89 3621.89L859.11 3584.06L861.33 3621.89L868.44 3556.36L875.56 3611.76L880.89 3584.06L884.89 3639.46L889.33 3611.76L892.44 3639.46L896.89 3584.06L902.67 3639.46L909.33 3584.06L913.78 3611.76L922.67 3639.46L930.22 3584.06L944 3639.46L955.11 3584.06L961.78 3639.46L966.22 3611.76L969.78 3639.46L973.78 3584.06L976.89 3611.76L989.33 3639.46L1002.67 3556.36L1007.11 3639.46L1011.56 3584.06L1022.67 3639.46L1033.78 3584.06L1039.11 3639.46L1051.56 3584.06L1057.33 3639.46L1061.78 3611.76L1070.67 3639.46L1080.44 3611.76L1085.33 3528.66L1087.56 3544.11L1090.67 3500.96L1093.78 3584.06L1097.33 3639.46L1106.22 3528.66L1109.33 3584.06L1125.33 3639.46L1146.22 3611.76L1152.89 3639.46L1158.22 3584.06L1161.78 3611.76L1171.56 3639.46L1181.78 3584.06L1185.33 3556.36L1189.33 3611.76L1195.11 3556.36L1201.78 3639.46L1206.22 3611.76L1224 3639.46L1243.11 3611.76L1249.33 3639.46L1255.11 3584.06L1258.67 3639.46L1261.78 3584.06L1264 3611.76L1272.89 3639.46L1285.33 3584.06L1291.56 3639.46L1297.33 3611.76L1299.56 3639.46L1303.11 3584.06L1309.78 3611.76L1317.33 3556.36L1328.44 3639.46L1341.78 3611.76L1344.89 3639.46L1349.78 3556.36L1354.22 3601.89L1359.56 3556.36L1363.11 3611.76L1372 3639.46L1380.44 3584.06L1388.44 3639.46L1392 3611.76L1395.11 3639.46L1399.56 3611.76L1406.22 3639.46L1412.89 3611.76L1419.56 3639.46L1423.11 3584.06" fill="none" stroke="#000080" stroke-width="0.55" stroke-linejoin="round"/>
<path d="M259 3500.96H271V3639.46H259" fill="none" stroke="#333" stroke-width="1"/>
<text x="252.1" y="3503.86" font-size="13" text-anchor="end" fill="#000">4</text>
<text x="252.1" y="3642.36" font-size="13" text-anchor="end" fill="#000">0</text>
<text x="73.4" y="3575.46" font-size="23.1" fill="#000">GSM2481669</text>
<path d="M276 3793.39L276 3793.39L282.67 3747.22L345.78 3793.39L409.33 3747.22L411.11 3701.06L413.33 3747.22L421.33 3793.39L428.89 3747.22L432 3701.06L434.67 3747.22L436.89 3793.39L441.33 3747.22L444 3793.39L447.11 3747.22L460 3793.39L473.33 3747.22L479.11 3793.39L485.78 3747.22L488.44 3793.39L493.78 3747.22L520 3793.39L543.56 3747.22L554.67 3793.39L564.89 3747.22L573.78 3793.39L582.67 3747.22L591.11 3793.39L598.22 3747.22L600.44 3793.39L603.56 3747.22L612.44 3793.39L622.67 3747.22L633.78 3793.39L645.78 3747.22L674.67 3793.39L704.89 3747.22L720.44 3793.39L737.33 3747.22L750.22 3793.39L759.56 3747.22L767.11 3793.39L774.67 3747.22L814.67 3793.39L855.11 3747.22L860.44 3793.39L864.89 3747.22L873.78 3793.39L883.56 3747.22L896 3793.39L908.44 3747.22L919.11 3793.39L928.89 3747.22L931.56 3793.39L935.11 3747.22L957.33 3793.39L979.11 3747.22L994.67 3793.39L1007.11 3747.22L1010.67 3793.39L1016 3701.06L1038.22 3793.39L1062.67 3747.22L1078.67 3793.39L1098.67 3747.22L1109.78 3793.39L1118.67 3747.22L1121.78 3654.89L1124 3747.22L1136 3793.39L1149.33 3747.22L1163.11 3793.39L1175.11 3747.22L1179.56 3701.06L1184 3793.39L1189.78 3701.06L1192.89 3793.39L1197.33 3701.06L1200.44 3793.39L1204.89 3747.22L1229.78 3793.39L1253.78 3747.22L1258.67 3793.39L1264.89 3747.22L1269.33 3793.39L1272.89 3701.06L1287.56 3793.39L1304 3747.22L1310.67 3793.39L1318.67 3747.22L1338.22 3793.39L1358.67 3747.22L1378.22 3793.39L1398.22 3747.22L1404 3793.39L1412 3701.06L1419.56 3793.39L1419.56 3793.39Z" fill="#0000ff" stroke="none"/>
<path d="M276 3793.39L282.67 3747.22L345.78 3793.39L409.33 3747.22L411.11 3701.06L413.33 3747.22L421.33 3793.39L428.89 3747.22L432 3701.06L434.67 3747.22L436.89 3793.39L441.33 3747.22L444 3793.39L447.11 3747.22L460 3793.39L473.33 3747.22L479.11 3793.39L485.78 3747.22L488.44 3793.39L493.78 3747.22L520 3793.39L543.56 3747.22L554.67 3793.39L564.89 3747.22L573.78 3793.39L582.67 3747.22L591.11 3793.39L598.22 3747.22L600.44 3793.39L603.56 3747.22L612.44 3793.39L622.67 3747.22L633.78 3793.39L645.78 3747.22L674.67 3793.39L704.89 3747.22L720.44 3793.39L737.33 3747.22L750.22 3793.39L759.56 3747.22L767.11 3793.39L774.67 3747.22L814.67 3793.39L855.11 3747.22L860.44 3793.39L864.89 3747.22L873.78 3793.39L883.56 3747.22L896 3793.39L908.44 3747.22L919.11 3793.39L928.89 3747.22L931.56 3793.39L935.11 3747.22L957.33 3793.39L979.11 3747.22L994.67 3793.39L1007.11 3747.22L1010.67 3793.39L1016 3701.06L1038.22 3793.39L1062.67 3747.22L1078.67 3793.39L1098.67 3747.22L1109.78 3793.39L1118.67 3747.22L1121.78 3654.89L1124 3747.22L1136 3793.39L1149.33 3747.22L1163.11 3793.39L1175.11 3747.22L1179.56 3701.06L1184 3793.39L1189.78 3701.06L1192.89 3793.39L1197.33 3701.06L1200.44 3793.39L1204.89 3747.22L1229.78 3793.39L1253.78 3747.22L1258.67 3793.39L1264.89 3747.22L1269.33 3793.39L1272.89 3701.06L1287.56 3793.39L1304 3747.22L1310.67 3793.39L1318.67 3747.22L1338.22 3793.39L1358.67 3747.22L1378.22 3793.39L1398.22 3747.22L1404 3793.39L1412 3701.06L1419.56 3793.39" fill="none" stroke="#000080" stroke-width="0.55" stroke-linejoin="round"/>
<path d="M259 3654.89H271V3793.39H259" fill="none" stroke="#333" stroke-width="1"/>
<text x="252.1" y="3657.79" font-size="13" text-anchor="end" fill="#000">9</text>
<text x="252.1" y="3796.29" font-size="13" text-anchor="end" fill="#000">0</text>
<text x="73.4" y="3729.39" font-size="23.1" fill="#000">GSM2481668</text>
<text x="287.5" y="3903.2" font-size="36.5" fill="#000">GEMIN2</text>
<path d="M271 3957.4H809" stroke="#333" stroke-width="1" fill="none"/>
<path d="M277.6 3948.1L286.8 3957.4L277.6 3966.7M315.3 3948.1L324.5 3957.4L315.3 3966.7M339.5 3948.1L348.7 3957.4L339.5 3966.7M377.4 3948.1L386.6 3957.4L377.4 3966.7M414.8 3948.1L424 3957.4L414.8 3966.7M452.3 3948.1L461.5 3957.4L452.3 3966.7M481.8 3948.1L491 3957.4L481.8 3966.7M519.3 3948.1L528.5 3957.4L519.3 3966.7M556.8 3948.1L566 3957.4L556.8 3966.7M594.4 3948.1L603.6 3957.4L594.4 3966.7M637.1 3948.1L646.3 3957.4L637.1 3966.7M674.5 3948.1L683.7 3957.4L674.5 3966.7M724 3948.1L733.2 3957.4L724 3966.7M761.7 3948.1L770.9 3957.4L761.7 3966.7" stroke="#333" stroke-width="1" fill="none"/>
<rect x="329.6" y="3910.2" width="3.1" height="94.6" fill="#000"/>
<rect x="467.5" y="3910.2" width="3.7" height="94.6" fill="#000"/>
<rect x="621.8" y="3910.2" width="5" height="94.6" fill="#000"/>
<rect x="692.9" y="3910.2" width="3.2" height="94.6" fill="#000"/>
<rect x="788" y="3910.2" width="2.9" height="94.6" fill="#000"/>
<rect x="809.1" y="3910.2" width="2.7" height="94.6" fill="#000"/>
<rect x="614" y="3933.7" width="9" height="47.3" fill="#000"/>
<rect x="695" y="3933.7" width="11" height="47.3" fill="#000"/>
<rect x="789.5" y="3933.7" width="8.3" height="47.3" fill="#000"/>
<rect x="810" y="3933.7" width="22.2" height="47.3" fill="#000"/>
<text x="75" y="4109.3" font-size="48" fill="#000">chr14</text>
<rect x="270.9" y="4062.2" width="1152.9" height="58.5" fill="#000"/>
<path d="M288.5 4120.7V4151M372.5 4120.7V4151M456.5 4120.7V4151M540.5 4120.7V4196.5M623.5 4120.7V4151M707.5 4120.7V4151M791.5 4120.7V4151M875.5 4120.7V4151M958.5 4120.7V4196.5M1042.5 4120.7V4151M1126.5 4120.7V4151M1210.5 4120.7V4151M1293.5 4120.7V4151M1377.5 4120.7V4196.5" stroke="#222" stroke-width="1" fill="none"/>
<text x="540.5" y="4212.3" font-size="24" text-anchor="middle" fill="#000">39.13Mb</text>
<text x="958.5" y="4212.3" font-size="24" text-anchor="middle" fill="#000">39.14Mb</text>
<text x="1377.5" y="4212.3" font-size="24" text-anchor="middle" fill="#000">39.15Mb</text>
</svg></body></html>
